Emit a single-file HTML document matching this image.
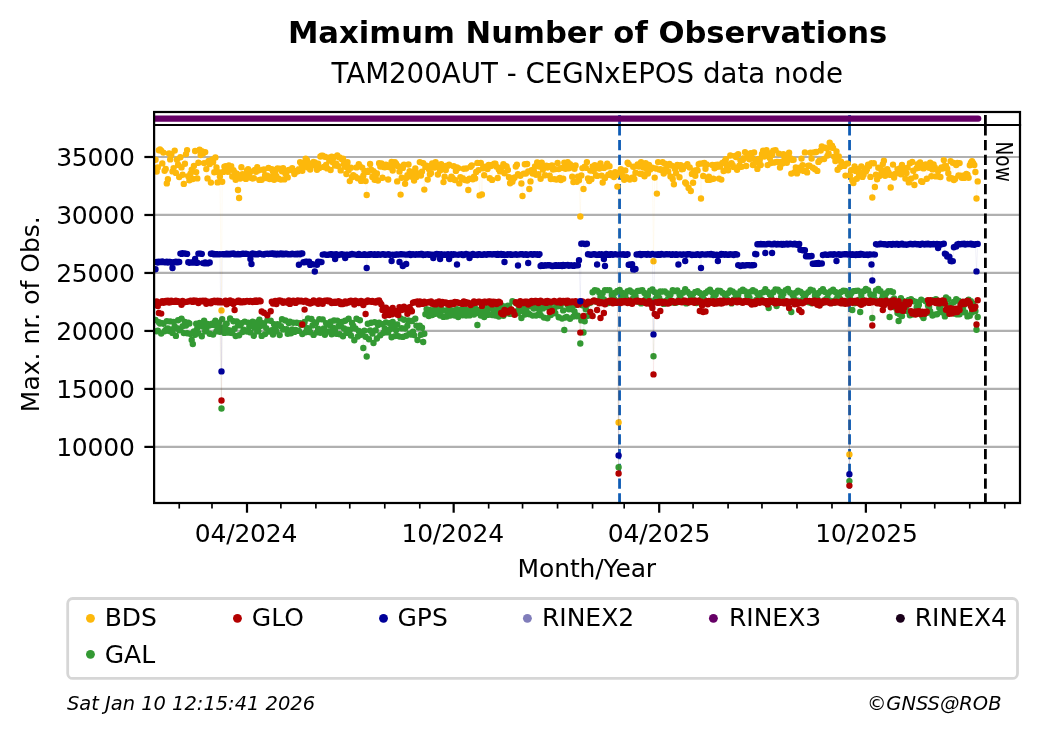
<!DOCTYPE html>
<html lang="en"><head><meta charset="utf-8"><title>Maximum Number of Observations - TAM200AUT</title>
<style>
html,body{margin:0;padding:0;background:#fff;}
body{width:1040px;height:734px;overflow:hidden;}
svg{display:block;will-change:transform;transform:translateZ(0);}
text{font-family:"DejaVu Sans","Liberation Sans",sans-serif;fill:#000;}
.t9{font-size:25px;}
.it{font-size:19.44px;font-style:italic;}
</style></head><body>
<svg width="1040" height="734" viewBox="0 0 1040 734">
<rect width="1040" height="734" fill="#fff"/>
<defs>
<clipPath id="cm"><rect x="154.1" y="125.0" width="865.9" height="378.0"/></clipPath>
<clipPath id="cs"><rect x="154.1" y="112.0" width="865.9" height="13.0"/></clipPath>
</defs>
<text x="587.6" y="42.7" text-anchor="middle" font-size="30.63" font-weight="bold">Maximum Number of Observations</text>
<text x="587.3" y="83.4" text-anchor="middle" font-size="27.66">TAM200AUT - CEGNxEPOS data node</text>
<g stroke="#b0b0b0" stroke-width="2.22"><line x1="154.1" x2="1020.0" y1="446.90" y2="446.90"/><line x1="154.1" x2="1020.0" y1="388.92" y2="388.92"/><line x1="154.1" x2="1020.0" y1="330.94" y2="330.94"/><line x1="154.1" x2="1020.0" y1="272.96" y2="272.96"/><line x1="154.1" x2="1020.0" y1="214.98" y2="214.98"/><line x1="154.1" x2="1020.0" y1="157.00" y2="157.00"/></g>
<g clip-path="url(#cs)"><line x1="619.55" x2="619.55" y1="125.2" y2="100" stroke="#0e5cb5" stroke-width="2.78" stroke-dasharray="10.28 4.44"/><line x1="849.55" x2="849.55" y1="125.2" y2="100" stroke="#0e5cb5" stroke-width="2.78" stroke-dasharray="10.28 4.44"/><line x1="155.5" x2="978.2" y1="118.55" y2="118.55" stroke="#660066" stroke-width="6.3" stroke-linecap="round"/><line x1="985.4" x2="985.4" y1="125.2" y2="100" stroke="#000" stroke-width="2.78" stroke-dasharray="10.28 4.44"/></g>
<g clip-path="url(#cm)"><line x1="619.55" x2="619.55" y1="125.2" y2="510" stroke="#0e5cb5" stroke-width="2.78" stroke-dasharray="10.28 4.44"/><line x1="849.55" x2="849.55" y1="125.2" y2="510" stroke="#0e5cb5" stroke-width="2.78" stroke-dasharray="10.28 4.44"/><path d="M155.5 159.7 L156.7 171.5 L157.8 167.4 L158.9 150.2 L160.0 149.5 L161.2 150.7 L162.3 163.4 L163.4 152.6 L164.6 170.8 L165.7 169.0 L166.8 183.4 L167.9 179.2 L169.1 153.5 L170.2 159.4 L171.3 154.8 L172.5 171.4 L173.6 168.1 L174.7 150.6 L175.9 172.9 L177.0 159.8 L178.1 164.8 L179.2 177.1 L180.4 157.3 L181.5 167.4 L182.6 174.8 L183.8 183.9 L184.9 163.7 L186.0 154.1 L187.1 150.1 L188.3 176.2 L189.4 180.2 L190.5 173.7 L191.7 169.6 L192.8 179.0 L193.9 165.9 L195.1 151.0 L196.2 172.1 L197.3 178.4 L198.4 162.8 L199.6 149.7 L200.7 155.0 L201.8 151.1 L203.0 153.6 L204.1 163.1 L205.2 152.1 L206.3 169.1 L207.5 178.4 L208.6 160.9 L209.7 164.0 L210.9 182.6 L212.0 159.7 L213.1 162.0 L214.3 172.2 L215.4 157.4 L216.5 167.5 L217.6 182.4 L218.8 172.3 L219.9 176.5 L221.5 310.4 L222.2 181.7 L223.3 171.9 L224.4 166.6 L225.5 166.3 L226.7 169.3 L227.8 171.8 L228.9 165.5 L230.1 167.5 L231.2 166.3 L232.3 176.5 L233.4 170.3 L234.6 172.2 L235.7 179.8 L236.8 173.7 L238.0 190.0 L239.1 198.0 L240.2 178.6 L241.4 167.3 L242.5 174.3 L243.6 174.5 L244.7 174.3 L245.9 178.9 L247.0 170.6 L248.1 169.2 L249.3 174.3 L250.4 171.5 L251.5 178.1 L252.6 178.6 L253.8 178.1 L254.9 170.0 L256.0 171.7 L257.2 167.2 L258.3 170.4 L259.4 179.9 L260.6 179.6 L261.7 179.8 L262.8 169.8 L263.9 169.5 L265.1 175.2 L266.2 178.1 L267.3 175.6 L268.5 167.9 L269.6 179.0 L270.7 176.8 L271.8 169.1 L273.0 171.2 L274.1 179.7 L275.2 172.0 L276.4 176.3 L277.5 168.4 L278.6 178.7 L279.7 168.6 L280.9 179.6 L282.0 171.3 L283.1 168.3 L284.3 179.4 L285.4 173.5 L286.5 172.3 L287.7 177.4 L288.8 169.9 L289.9 169.7 L291.0 169.9 L292.2 168.2 L293.3 171.1 L294.4 174.1 L295.6 171.5 L296.7 171.7 L297.8 171.2 L298.9 169.1 L300.1 162.1 L301.2 163.5 L302.3 170.7 L303.5 163.9 L304.6 166.5 L305.7 158.7 L306.9 159.9 L308.0 167.4 L309.1 163.9 L310.2 169.5 L311.4 164.7 L312.5 163.0 L313.6 162.0 L314.8 162.4 L315.9 165.9 L317.0 169.7 L318.1 163.6 L319.3 168.0 L320.4 156.5 L321.5 155.7 L322.7 155.6 L323.8 167.0 L324.9 156.8 L326.1 164.9 L327.2 168.4 L328.3 157.8 L329.4 160.6 L330.6 170.0 L331.7 156.7 L332.8 162.3 L334.0 157.2 L335.1 165.6 L336.2 163.6 L337.3 155.5 L338.5 166.2 L339.6 157.4 L340.7 170.4 L341.9 159.3 L343.0 158.7 L344.1 163.4 L345.2 166.7 L346.4 174.0 L347.5 162.2 L348.6 170.0 L349.8 181.1 L350.9 167.8 L352.0 177.3 L353.2 175.1 L354.3 176.3 L355.4 176.6 L356.5 167.4 L357.7 178.2 L358.8 164.1 L359.9 166.3 L361.1 180.9 L362.2 167.6 L363.3 175.7 L364.4 171.0 L365.6 181.1 L366.7 195.0 L367.8 171.9 L369.0 170.5 L370.1 163.9 L371.2 169.8 L372.4 177.0 L373.5 171.1 L374.6 179.7 L375.7 177.0 L376.9 173.4 L378.0 180.6 L379.1 163.3 L380.3 166.6 L381.4 163.5 L382.5 177.7 L383.6 167.1 L384.8 167.3 L385.9 164.8 L387.0 166.7 L388.2 179.5 L389.3 166.4 L390.4 167.6 L391.6 162.0 L392.7 170.5 L393.8 165.6 L394.9 162.1 L396.1 163.6 L397.2 181.4 L398.3 166.2 L399.5 171.5 L400.6 194.6 L401.7 177.8 L402.8 167.9 L404.0 164.7 L405.1 183.8 L406.2 178.1 L407.4 175.2 L408.5 164.5 L409.6 171.1 L410.7 176.5 L411.9 172.5 L413.0 174.3 L414.1 180.6 L415.3 168.5 L416.4 177.0 L417.5 173.3 L418.7 174.3 L419.8 162.1 L420.9 175.5 L422.0 171.6 L423.2 163.2 L424.3 189.6 L425.4 166.8 L426.6 165.7 L427.7 179.6 L428.8 168.9 L429.9 174.3 L431.1 173.1 L432.2 163.4 L433.3 166.6 L434.5 167.5 L435.6 162.2 L436.7 166.8 L437.9 174.5 L439.0 167.2 L440.1 170.4 L441.2 164.1 L442.4 165.6 L443.5 182.1 L444.6 176.8 L445.8 170.1 L446.9 165.8 L448.0 165.8 L449.1 164.6 L450.3 179.1 L451.4 176.8 L452.5 178.0 L453.7 166.2 L454.8 180.0 L455.9 170.9 L457.0 167.4 L458.2 168.2 L459.3 183.4 L460.4 177.1 L461.6 178.7 L462.7 178.2 L463.8 168.7 L465.0 180.0 L466.1 168.5 L467.2 180.5 L468.3 190.0 L469.5 178.8 L470.6 166.8 L471.7 165.4 L472.9 179.2 L474.0 176.6 L475.1 178.4 L476.2 171.9 L477.4 162.9 L478.5 170.1 L479.6 195.4 L480.8 162.9 L481.9 194.5 L483.0 168.2 L484.2 175.3 L485.3 166.7 L486.4 167.4 L487.5 169.1 L488.7 164.9 L489.8 178.3 L490.9 166.0 L492.1 179.9 L493.2 164.5 L494.3 163.6 L495.4 163.6 L496.6 166.7 L497.7 178.0 L498.8 169.4 L500.0 171.4 L501.1 168.1 L502.2 167.0 L503.4 164.3 L504.5 173.3 L505.6 165.9 L506.7 166.5 L507.9 170.0 L509.0 177.3 L510.1 183.2 L511.3 178.1 L512.4 181.8 L513.5 178.7 L514.6 177.4 L515.8 166.5 L516.9 164.8 L518.0 174.3 L519.2 175.0 L520.3 175.8 L521.4 183.5 L522.5 196.0 L523.7 173.6 L524.8 164.3 L525.9 173.5 L527.1 164.0 L528.2 171.4 L529.3 189.0 L530.5 181.4 L531.6 170.3 L532.7 173.6 L533.8 170.6 L535.0 166.4 L536.1 174.7 L537.2 162.4 L538.4 174.1 L539.5 166.6 L540.6 178.7 L541.7 162.6 L542.9 169.6 L544.0 165.6 L545.1 175.3 L546.3 165.7 L547.4 167.6 L548.5 166.2 L549.7 175.7 L550.8 179.1 L551.9 165.4 L553.0 169.5 L554.2 179.1 L555.3 169.1 L556.4 179.5 L557.6 162.9 L558.7 169.1 L559.8 177.9 L560.9 180.0 L562.1 167.9 L563.2 178.8 L564.3 162.6 L565.5 168.8 L566.6 168.0 L567.7 162.1 L568.9 168.3 L570.0 164.2 L571.1 165.7 L572.2 176.8 L573.4 182.1 L574.5 168.7 L575.6 165.5 L576.8 181.8 L577.9 176.6 L579.0 180.3 L580.3 216.5 L581.3 175.5 L582.4 168.1 L583.5 189.0 L584.7 166.7 L585.8 167.7 L586.9 162.1 L588.0 178.5 L589.2 181.1 L590.3 170.6 L591.4 179.2 L592.6 166.5 L593.7 170.9 L594.8 165.3 L596.0 175.3 L597.1 175.9 L598.2 167.9 L599.3 168.5 L600.5 163.4 L601.6 175.6 L602.7 182.5 L603.9 167.9 L605.0 177.9 L606.1 166.8 L607.2 163.7 L608.4 174.8 L609.5 166.2 L610.6 173.2 L611.8 175.5 L612.9 174.0 L614.0 177.1 L615.2 172.2 L616.3 175.3 L617.4 186.6 L618.6 422.5 L619.7 172.4 L620.8 169.1 L621.9 171.1 L623.1 176.6 L624.2 179.8 L625.3 170.5 L626.4 177.1 L627.6 162.7 L628.7 164.1 L629.8 179.5 L631.0 178.7 L632.1 177.6 L633.2 166.7 L634.3 179.0 L635.5 172.7 L636.6 165.9 L637.7 164.5 L638.9 166.6 L640.0 173.7 L641.1 162.2 L642.3 174.2 L643.4 167.6 L644.5 176.3 L645.6 163.1 L646.8 169.1 L647.9 173.5 L649.0 164.9 L650.2 169.4 L651.3 167.5 L652.4 167.6 L653.5 261.3 L654.7 177.6 L655.8 168.5 L656.9 193.6 L658.1 162.1 L659.2 169.6 L660.3 169.3 L661.5 170.3 L662.6 162.3 L663.7 173.5 L664.8 163.6 L666.0 168.7 L667.1 164.6 L668.2 171.4 L669.4 164.0 L670.5 176.5 L671.6 165.6 L672.7 179.0 L673.9 184.2 L675.0 169.0 L676.1 173.2 L677.3 164.9 L678.4 166.0 L679.5 177.2 L680.7 165.3 L681.8 169.2 L682.9 168.9 L684.0 166.4 L685.2 182.5 L686.3 183.8 L687.4 164.1 L688.6 188.0 L689.7 167.5 L690.8 191.0 L691.9 173.9 L693.1 182.8 L694.2 170.8 L695.3 175.7 L696.5 170.2 L697.6 170.5 L698.7 164.3 L699.8 163.7 L701.0 198.5 L702.1 163.5 L703.2 176.0 L704.4 163.0 L705.5 168.8 L706.6 164.5 L707.8 179.9 L708.9 176.7 L710.0 179.7 L711.1 179.2 L712.3 165.0 L713.4 178.8 L714.5 168.3 L715.7 164.9 L716.8 166.9 L717.9 164.6 L719.0 178.6 L720.2 166.6 L721.3 179.6 L722.4 162.9 L723.6 171.1 L724.7 161.2 L725.8 159.3 L727.0 167.3 L728.1 170.3 L729.2 164.4 L730.3 155.5 L731.5 163.2 L732.6 164.9 L733.7 167.0 L734.9 155.9 L736.0 157.1 L737.1 169.7 L738.2 154.1 L739.4 165.7 L740.5 160.6 L741.6 166.7 L742.8 159.9 L743.9 158.2 L745.0 152.1 L746.2 166.0 L747.3 155.7 L748.4 155.7 L749.5 159.3 L750.7 153.3 L751.8 157.6 L752.9 165.0 L754.1 152.4 L755.2 160.2 L756.3 162.5 L757.4 168.9 L758.6 159.0 L759.7 160.3 L760.8 165.0 L762.0 154.0 L763.1 150.7 L764.2 156.5 L765.3 150.9 L766.5 150.2 L767.6 165.1 L768.7 153.2 L769.9 158.1 L771.0 163.0 L772.1 155.0 L773.3 150.8 L774.4 162.5 L775.5 150.1 L776.6 161.9 L777.8 161.9 L778.9 153.6 L780.0 167.5 L781.2 162.0 L782.3 163.5 L783.4 154.3 L784.5 157.0 L785.7 159.2 L786.8 162.7 L787.9 156.0 L789.1 152.8 L790.2 158.2 L791.3 173.6 L792.5 159.9 L793.6 159.8 L794.7 172.2 L795.8 167.5 L797.0 173.4 L798.1 170.3 L799.2 170.5 L800.4 167.5 L801.5 158.6 L802.6 165.1 L803.7 170.9 L804.9 152.4 L806.0 171.0 L807.1 172.4 L808.3 165.8 L809.4 165.7 L810.5 152.7 L811.6 158.6 L812.8 167.7 L813.9 152.4 L815.0 169.2 L816.2 152.0 L817.3 170.9 L818.4 161.9 L819.6 160.4 L820.7 150.5 L821.8 146.5 L822.9 147.5 L824.1 159.0 L825.2 147.6 L826.3 148.3 L827.5 155.6 L828.6 153.5 L829.7 142.6 L830.8 147.2 L832.0 145.6 L833.1 147.9 L834.2 156.8 L835.4 161.0 L836.5 151.5 L837.6 169.7 L838.8 156.5 L839.9 167.1 L841.0 161.6 L842.1 165.7 L843.3 164.6 L844.4 165.9 L845.5 175.6 L846.7 163.6 L847.8 163.6 L849.4 454.4 L850.0 175.3 L851.2 170.1 L852.3 180.2 L853.4 183.1 L854.6 166.4 L855.7 171.1 L856.8 178.7 L858.0 169.7 L859.1 175.4 L860.2 172.9 L861.3 166.5 L862.5 176.9 L863.6 174.8 L864.7 168.8 L865.9 171.6 L867.0 169.2 L868.1 164.8 L869.2 166.0 L870.4 176.9 L871.5 163.1 L872.3 197.5 L873.8 163.2 L874.9 187.0 L876.0 174.6 L877.1 179.2 L878.3 167.7 L879.4 175.9 L880.5 168.7 L881.7 172.8 L882.8 164.1 L883.9 160.7 L885.1 175.8 L886.2 170.0 L887.3 169.3 L888.4 172.1 L889.6 174.8 L890.7 187.5 L891.8 175.0 L893.0 164.6 L894.1 177.6 L895.2 174.0 L896.3 173.6 L897.5 169.1 L898.6 172.6 L899.7 168.4 L900.9 174.3 L902.0 165.0 L903.1 169.1 L904.3 168.2 L905.4 178.6 L906.5 173.1 L907.6 167.8 L908.8 182.4 L909.9 163.2 L911.0 178.8 L912.2 162.0 L913.3 170.8 L914.4 185.0 L915.5 176.6 L916.7 168.2 L917.8 164.2 L918.9 167.8 L920.1 162.4 L921.2 181.2 L922.3 181.9 L923.5 168.4 L924.6 167.0 L925.7 164.5 L926.8 178.8 L928.0 164.4 L929.1 167.8 L930.2 162.6 L931.4 176.2 L932.5 169.4 L933.6 164.5 L934.7 167.1 L935.9 176.4 L937.0 169.4 L938.1 171.0 L939.3 176.7 L940.4 177.0 L941.5 167.5 L942.6 168.5 L943.8 160.1 L944.9 165.6 L946.0 166.0 L947.2 168.6 L948.3 173.2 L949.4 178.6 L950.6 161.1 L951.7 178.1 L952.8 162.8 L953.9 180.1 L955.1 179.0 L956.2 165.0 L957.3 162.9 L958.5 175.5 L959.6 163.1 L960.7 175.8 L961.8 177.8 L963.0 175.6 L964.1 177.9 L965.2 176.8 L966.4 173.9 L967.5 174.8 L968.6 177.7 L969.8 165.3 L970.9 162.8 L972.0 161.2 L973.1 162.9 L974.3 165.0 L975.4 172.0 L976.5 198.5 L977.7 181.4" fill="none" stroke="#fdb80b" stroke-width="0.8" stroke-opacity="0.07"/>
<path d="M155.5 159.7h0M156.7 171.5h0M157.8 167.4h0M158.9 150.2h0M160.0 149.5h0M161.2 150.7h0M162.3 163.4h0M163.4 152.6h0M164.6 170.8h0M165.7 169.0h0M166.8 183.4h0M167.9 179.2h0M169.1 153.5h0M170.2 159.4h0M171.3 154.8h0M172.5 171.4h0M173.6 168.1h0M174.7 150.6h0M175.9 172.9h0M177.0 159.8h0M178.1 164.8h0M179.2 177.1h0M180.4 157.3h0M181.5 167.4h0M182.6 174.8h0M183.8 183.9h0M184.9 163.7h0M186.0 154.1h0M187.1 150.1h0M188.3 176.2h0M189.4 180.2h0M190.5 173.7h0M191.7 169.6h0M192.8 179.0h0M193.9 165.9h0M195.1 151.0h0M196.2 172.1h0M197.3 178.4h0M198.4 162.8h0M199.6 149.7h0M200.7 155.0h0M201.8 151.1h0M203.0 153.6h0M204.1 163.1h0M205.2 152.1h0M206.3 169.1h0M207.5 178.4h0M208.6 160.9h0M209.7 164.0h0M210.9 182.6h0M212.0 159.7h0M213.1 162.0h0M214.3 172.2h0M215.4 157.4h0M216.5 167.5h0M217.6 182.4h0M218.8 172.3h0M219.9 176.5h0M221.5 310.4h0M222.2 181.7h0M223.3 171.9h0M224.4 166.6h0M225.5 166.3h0M226.7 169.3h0M227.8 171.8h0M228.9 165.5h0M230.1 167.5h0M231.2 166.3h0M232.3 176.5h0M233.4 170.3h0M234.6 172.2h0M235.7 179.8h0M236.8 173.7h0M238.0 190.0h0M239.1 198.0h0M240.2 178.6h0M241.4 167.3h0M242.5 174.3h0M243.6 174.5h0M244.7 174.3h0M245.9 178.9h0M247.0 170.6h0M248.1 169.2h0M249.3 174.3h0M250.4 171.5h0M251.5 178.1h0M252.6 178.6h0M253.8 178.1h0M254.9 170.0h0M256.0 171.7h0M257.2 167.2h0M258.3 170.4h0M259.4 179.9h0M260.6 179.6h0M261.7 179.8h0M262.8 169.8h0M263.9 169.5h0M265.1 175.2h0M266.2 178.1h0M267.3 175.6h0M268.5 167.9h0M269.6 179.0h0M270.7 176.8h0M271.8 169.1h0M273.0 171.2h0M274.1 179.7h0M275.2 172.0h0M276.4 176.3h0M277.5 168.4h0M278.6 178.7h0M279.7 168.6h0M280.9 179.6h0M282.0 171.3h0M283.1 168.3h0M284.3 179.4h0M285.4 173.5h0M286.5 172.3h0M287.7 177.4h0M288.8 169.9h0M289.9 169.7h0M291.0 169.9h0M292.2 168.2h0M293.3 171.1h0M294.4 174.1h0M295.6 171.5h0M296.7 171.7h0M297.8 171.2h0M298.9 169.1h0M300.1 162.1h0M301.2 163.5h0M302.3 170.7h0M303.5 163.9h0M304.6 166.5h0M305.7 158.7h0M306.9 159.9h0M308.0 167.4h0M309.1 163.9h0M310.2 169.5h0M311.4 164.7h0M312.5 163.0h0M313.6 162.0h0M314.8 162.4h0M315.9 165.9h0M317.0 169.7h0M318.1 163.6h0M319.3 168.0h0M320.4 156.5h0M321.5 155.7h0M322.7 155.6h0M323.8 167.0h0M324.9 156.8h0M326.1 164.9h0M327.2 168.4h0M328.3 157.8h0M329.4 160.6h0M330.6 170.0h0M331.7 156.7h0M332.8 162.3h0M334.0 157.2h0M335.1 165.6h0M336.2 163.6h0M337.3 155.5h0M338.5 166.2h0M339.6 157.4h0M340.7 170.4h0M341.9 159.3h0M343.0 158.7h0M344.1 163.4h0M345.2 166.7h0M346.4 174.0h0M347.5 162.2h0M348.6 170.0h0M349.8 181.1h0M350.9 167.8h0M352.0 177.3h0M353.2 175.1h0M354.3 176.3h0M355.4 176.6h0M356.5 167.4h0M357.7 178.2h0M358.8 164.1h0M359.9 166.3h0M361.1 180.9h0M362.2 167.6h0M363.3 175.7h0M364.4 171.0h0M365.6 181.1h0M366.7 195.0h0M367.8 171.9h0M369.0 170.5h0M370.1 163.9h0M371.2 169.8h0M372.4 177.0h0M373.5 171.1h0M374.6 179.7h0M375.7 177.0h0M376.9 173.4h0M378.0 180.6h0M379.1 163.3h0M380.3 166.6h0M381.4 163.5h0M382.5 177.7h0M383.6 167.1h0M384.8 167.3h0M385.9 164.8h0M387.0 166.7h0M388.2 179.5h0M389.3 166.4h0M390.4 167.6h0M391.6 162.0h0M392.7 170.5h0M393.8 165.6h0M394.9 162.1h0M396.1 163.6h0M397.2 181.4h0M398.3 166.2h0M399.5 171.5h0M400.6 194.6h0M401.7 177.8h0M402.8 167.9h0M404.0 164.7h0M405.1 183.8h0M406.2 178.1h0M407.4 175.2h0M408.5 164.5h0M409.6 171.1h0M410.7 176.5h0M411.9 172.5h0M413.0 174.3h0M414.1 180.6h0M415.3 168.5h0M416.4 177.0h0M417.5 173.3h0M418.7 174.3h0M419.8 162.1h0M420.9 175.5h0M422.0 171.6h0M423.2 163.2h0M424.3 189.6h0M425.4 166.8h0M426.6 165.7h0M427.7 179.6h0M428.8 168.9h0M429.9 174.3h0M431.1 173.1h0M432.2 163.4h0M433.3 166.6h0M434.5 167.5h0M435.6 162.2h0M436.7 166.8h0M437.9 174.5h0M439.0 167.2h0M440.1 170.4h0M441.2 164.1h0M442.4 165.6h0M443.5 182.1h0M444.6 176.8h0M445.8 170.1h0M446.9 165.8h0M448.0 165.8h0M449.1 164.6h0M450.3 179.1h0M451.4 176.8h0M452.5 178.0h0M453.7 166.2h0M454.8 180.0h0M455.9 170.9h0M457.0 167.4h0M458.2 168.2h0M459.3 183.4h0M460.4 177.1h0M461.6 178.7h0M462.7 178.2h0M463.8 168.7h0M465.0 180.0h0M466.1 168.5h0M467.2 180.5h0M468.3 190.0h0M469.5 178.8h0M470.6 166.8h0M471.7 165.4h0M472.9 179.2h0M474.0 176.6h0M475.1 178.4h0M476.2 171.9h0M477.4 162.9h0M478.5 170.1h0M479.6 195.4h0M480.8 162.9h0M481.9 194.5h0M483.0 168.2h0M484.2 175.3h0M485.3 166.7h0M486.4 167.4h0M487.5 169.1h0M488.7 164.9h0M489.8 178.3h0M490.9 166.0h0M492.1 179.9h0M493.2 164.5h0M494.3 163.6h0M495.4 163.6h0M496.6 166.7h0M497.7 178.0h0M498.8 169.4h0M500.0 171.4h0M501.1 168.1h0M502.2 167.0h0M503.4 164.3h0M504.5 173.3h0M505.6 165.9h0M506.7 166.5h0M507.9 170.0h0M509.0 177.3h0M510.1 183.2h0M511.3 178.1h0M512.4 181.8h0M513.5 178.7h0M514.6 177.4h0M515.8 166.5h0M516.9 164.8h0M518.0 174.3h0M519.2 175.0h0M520.3 175.8h0M521.4 183.5h0M522.5 196.0h0M523.7 173.6h0M524.8 164.3h0M525.9 173.5h0M527.1 164.0h0M528.2 171.4h0M529.3 189.0h0M530.5 181.4h0M531.6 170.3h0M532.7 173.6h0M533.8 170.6h0M535.0 166.4h0M536.1 174.7h0M537.2 162.4h0M538.4 174.1h0M539.5 166.6h0M540.6 178.7h0M541.7 162.6h0M542.9 169.6h0M544.0 165.6h0M545.1 175.3h0M546.3 165.7h0M547.4 167.6h0M548.5 166.2h0M549.7 175.7h0M550.8 179.1h0M551.9 165.4h0M553.0 169.5h0M554.2 179.1h0M555.3 169.1h0M556.4 179.5h0M557.6 162.9h0M558.7 169.1h0M559.8 177.9h0M560.9 180.0h0M562.1 167.9h0M563.2 178.8h0M564.3 162.6h0M565.5 168.8h0M566.6 168.0h0M567.7 162.1h0M568.9 168.3h0M570.0 164.2h0M571.1 165.7h0M572.2 176.8h0M573.4 182.1h0M574.5 168.7h0M575.6 165.5h0M576.8 181.8h0M577.9 176.6h0M579.0 180.3h0M580.3 216.5h0M581.3 175.5h0M582.4 168.1h0M583.5 189.0h0M584.7 166.7h0M585.8 167.7h0M586.9 162.1h0M588.0 178.5h0M589.2 181.1h0M590.3 170.6h0M591.4 179.2h0M592.6 166.5h0M593.7 170.9h0M594.8 165.3h0M596.0 175.3h0M597.1 175.9h0M598.2 167.9h0M599.3 168.5h0M600.5 163.4h0M601.6 175.6h0M602.7 182.5h0M603.9 167.9h0M605.0 177.9h0M606.1 166.8h0M607.2 163.7h0M608.4 174.8h0M609.5 166.2h0M610.6 173.2h0M611.8 175.5h0M612.9 174.0h0M614.0 177.1h0M615.2 172.2h0M616.3 175.3h0M617.4 186.6h0M618.6 422.5h0M619.7 172.4h0M620.8 169.1h0M621.9 171.1h0M623.1 176.6h0M624.2 179.8h0M625.3 170.5h0M626.4 177.1h0M627.6 162.7h0M628.7 164.1h0M629.8 179.5h0M631.0 178.7h0M632.1 177.6h0M633.2 166.7h0M634.3 179.0h0M635.5 172.7h0M636.6 165.9h0M637.7 164.5h0M638.9 166.6h0M640.0 173.7h0M641.1 162.2h0M642.3 174.2h0M643.4 167.6h0M644.5 176.3h0M645.6 163.1h0M646.8 169.1h0M647.9 173.5h0M649.0 164.9h0M650.2 169.4h0M651.3 167.5h0M652.4 167.6h0M653.5 261.3h0M654.7 177.6h0M655.8 168.5h0M656.9 193.6h0M658.1 162.1h0M659.2 169.6h0M660.3 169.3h0M661.5 170.3h0M662.6 162.3h0M663.7 173.5h0M664.8 163.6h0M666.0 168.7h0M667.1 164.6h0M668.2 171.4h0M669.4 164.0h0M670.5 176.5h0M671.6 165.6h0M672.7 179.0h0M673.9 184.2h0M675.0 169.0h0M676.1 173.2h0M677.3 164.9h0M678.4 166.0h0M679.5 177.2h0M680.7 165.3h0M681.8 169.2h0M682.9 168.9h0M684.0 166.4h0M685.2 182.5h0M686.3 183.8h0M687.4 164.1h0M688.6 188.0h0M689.7 167.5h0M690.8 191.0h0M691.9 173.9h0M693.1 182.8h0M694.2 170.8h0M695.3 175.7h0M696.5 170.2h0M697.6 170.5h0M698.7 164.3h0M699.8 163.7h0M701.0 198.5h0M702.1 163.5h0M703.2 176.0h0M704.4 163.0h0M705.5 168.8h0M706.6 164.5h0M707.8 179.9h0M708.9 176.7h0M710.0 179.7h0M711.1 179.2h0M712.3 165.0h0M713.4 178.8h0M714.5 168.3h0M715.7 164.9h0M716.8 166.9h0M717.9 164.6h0M719.0 178.6h0M720.2 166.6h0M721.3 179.6h0M722.4 162.9h0M723.6 171.1h0M724.7 161.2h0M725.8 159.3h0M727.0 167.3h0M728.1 170.3h0M729.2 164.4h0M730.3 155.5h0M731.5 163.2h0M732.6 164.9h0M733.7 167.0h0M734.9 155.9h0M736.0 157.1h0M737.1 169.7h0M738.2 154.1h0M739.4 165.7h0M740.5 160.6h0M741.6 166.7h0M742.8 159.9h0M743.9 158.2h0M745.0 152.1h0M746.2 166.0h0M747.3 155.7h0M748.4 155.7h0M749.5 159.3h0M750.7 153.3h0M751.8 157.6h0M752.9 165.0h0M754.1 152.4h0M755.2 160.2h0M756.3 162.5h0M757.4 168.9h0M758.6 159.0h0M759.7 160.3h0M760.8 165.0h0M762.0 154.0h0M763.1 150.7h0M764.2 156.5h0M765.3 150.9h0M766.5 150.2h0M767.6 165.1h0M768.7 153.2h0M769.9 158.1h0M771.0 163.0h0M772.1 155.0h0M773.3 150.8h0M774.4 162.5h0M775.5 150.1h0M776.6 161.9h0M777.8 161.9h0M778.9 153.6h0M780.0 167.5h0M781.2 162.0h0M782.3 163.5h0M783.4 154.3h0M784.5 157.0h0M785.7 159.2h0M786.8 162.7h0M787.9 156.0h0M789.1 152.8h0M790.2 158.2h0M791.3 173.6h0M792.5 159.9h0M793.6 159.8h0M794.7 172.2h0M795.8 167.5h0M797.0 173.4h0M798.1 170.3h0M799.2 170.5h0M800.4 167.5h0M801.5 158.6h0M802.6 165.1h0M803.7 170.9h0M804.9 152.4h0M806.0 171.0h0M807.1 172.4h0M808.3 165.8h0M809.4 165.7h0M810.5 152.7h0M811.6 158.6h0M812.8 167.7h0M813.9 152.4h0M815.0 169.2h0M816.2 152.0h0M817.3 170.9h0M818.4 161.9h0M819.6 160.4h0M820.7 150.5h0M821.8 146.5h0M822.9 147.5h0M824.1 159.0h0M825.2 147.6h0M826.3 148.3h0M827.5 155.6h0M828.6 153.5h0M829.7 142.6h0M830.8 147.2h0M832.0 145.6h0M833.1 147.9h0M834.2 156.8h0M835.4 161.0h0M836.5 151.5h0M837.6 169.7h0M838.8 156.5h0M839.9 167.1h0M841.0 161.6h0M842.1 165.7h0M843.3 164.6h0M844.4 165.9h0M845.5 175.6h0M846.7 163.6h0M847.8 163.6h0M849.4 454.4h0M850.0 175.3h0M851.2 170.1h0M852.3 180.2h0M853.4 183.1h0M854.6 166.4h0M855.7 171.1h0M856.8 178.7h0M858.0 169.7h0M859.1 175.4h0M860.2 172.9h0M861.3 166.5h0M862.5 176.9h0M863.6 174.8h0M864.7 168.8h0M865.9 171.6h0M867.0 169.2h0M868.1 164.8h0M869.2 166.0h0M870.4 176.9h0M871.5 163.1h0M872.3 197.5h0M873.8 163.2h0M874.9 187.0h0M876.0 174.6h0M877.1 179.2h0M878.3 167.7h0M879.4 175.9h0M880.5 168.7h0M881.7 172.8h0M882.8 164.1h0M883.9 160.7h0M885.1 175.8h0M886.2 170.0h0M887.3 169.3h0M888.4 172.1h0M889.6 174.8h0M890.7 187.5h0M891.8 175.0h0M893.0 164.6h0M894.1 177.6h0M895.2 174.0h0M896.3 173.6h0M897.5 169.1h0M898.6 172.6h0M899.7 168.4h0M900.9 174.3h0M902.0 165.0h0M903.1 169.1h0M904.3 168.2h0M905.4 178.6h0M906.5 173.1h0M907.6 167.8h0M908.8 182.4h0M909.9 163.2h0M911.0 178.8h0M912.2 162.0h0M913.3 170.8h0M914.4 185.0h0M915.5 176.6h0M916.7 168.2h0M917.8 164.2h0M918.9 167.8h0M920.1 162.4h0M921.2 181.2h0M922.3 181.9h0M923.5 168.4h0M924.6 167.0h0M925.7 164.5h0M926.8 178.8h0M928.0 164.4h0M929.1 167.8h0M930.2 162.6h0M931.4 176.2h0M932.5 169.4h0M933.6 164.5h0M934.7 167.1h0M935.9 176.4h0M937.0 169.4h0M938.1 171.0h0M939.3 176.7h0M940.4 177.0h0M941.5 167.5h0M942.6 168.5h0M943.8 160.1h0M944.9 165.6h0M946.0 166.0h0M947.2 168.6h0M948.3 173.2h0M949.4 178.6h0M950.6 161.1h0M951.7 178.1h0M952.8 162.8h0M953.9 180.1h0M955.1 179.0h0M956.2 165.0h0M957.3 162.9h0M958.5 175.5h0M959.6 163.1h0M960.7 175.8h0M961.8 177.8h0M963.0 175.6h0M964.1 177.9h0M965.2 176.8h0M966.4 173.9h0M967.5 174.8h0M968.6 177.7h0M969.8 165.3h0M970.9 162.8h0M972.0 161.2h0M973.1 162.9h0M974.3 165.0h0M975.4 172.0h0M976.5 198.5h0M977.7 181.4h0" fill="none" stroke="#fdb80b" stroke-width="6.4" stroke-linecap="round"/>
<path d="M155.5 320.0 L156.7 331.3 L157.8 330.8 L158.9 322.2 L160.0 323.6 L161.2 333.6 L162.3 323.3 L163.4 323.7 L164.6 331.2 L165.7 329.9 L166.8 321.1 L167.9 328.5 L169.1 331.0 L170.2 321.4 L171.3 329.6 L172.5 332.9 L173.6 322.0 L174.7 326.5 L175.9 335.9 L177.0 328.2 L178.1 320.3 L179.2 330.2 L180.4 329.1 L181.5 318.6 L182.6 326.3 L183.8 333.1 L184.9 321.9 L186.0 325.6 L187.1 333.2 L188.3 322.6 L189.4 323.5 L190.5 333.9 L191.7 340.0 L192.8 344.0 L193.9 331.5 L195.1 334.7 L196.2 323.7 L197.3 328.1 L198.4 333.2 L199.6 322.9 L200.7 323.1 L201.8 336.3 L203.0 326.6 L204.1 320.8 L205.2 331.3 L206.3 328.7 L207.5 323.9 L208.6 325.8 L209.7 333.8 L210.9 325.0 L212.0 323.6 L213.1 334.6 L214.3 325.0 L215.4 320.8 L216.5 331.2 L217.6 327.1 L218.8 322.9 L219.9 331.7 L221.5 408.5 L222.2 319.2 L223.3 327.7 L224.4 332.9 L225.5 325.0 L226.7 323.6 L227.8 332.6 L228.9 330.2 L230.1 318.5 L231.2 332.9 L232.3 333.0 L233.4 321.2 L234.6 328.7 L235.7 336.1 L236.8 321.4 L238.0 325.4 L239.1 335.3 L240.2 325.3 L241.4 323.2 L242.5 332.1 L243.6 329.7 L244.7 321.6 L245.9 330.8 L247.0 331.5 L248.1 322.6 L249.3 326.5 L250.4 332.4 L251.5 325.1 L252.6 321.8 L253.8 335.8 L254.9 327.8 L256.0 322.5 L257.2 331.4 L258.3 331.1 L259.4 319.7 L260.6 325.9 L261.7 335.9 L262.8 323.3 L263.9 324.5 L265.1 334.1 L266.2 328.1 L267.3 320.4 L268.5 330.6 L269.6 331.6 L270.7 320.8 L271.8 330.3 L273.0 334.5 L274.1 324.3 L275.2 328.0 L276.4 331.4 L277.5 324.1 L278.6 324.7 L279.7 335.1 L280.9 326.2 L282.0 319.2 L283.1 329.6 L284.3 329.3 L285.4 320.5 L286.5 329.2 L287.7 333.7 L288.8 323.1 L289.9 321.8 L291.0 333.3 L292.2 329.4 L293.3 322.8 L294.4 331.9 L295.6 330.0 L296.7 322.7 L297.8 330.6 L298.9 330.9 L300.1 323.3 L301.2 324.9 L302.3 334.1 L303.5 323.6 L304.6 321.9 L305.7 332.3 L306.9 327.9 L308.0 318.4 L309.1 329.0 L310.2 332.2 L311.4 319.0 L312.5 325.4 L313.6 334.9 L314.8 322.4 L315.9 322.9 L317.0 332.4 L318.1 328.8 L319.3 319.3 L320.4 332.8 L321.5 332.4 L322.7 319.4 L323.8 328.4 L324.9 334.7 L326.1 323.1 L327.2 324.6 L328.3 331.5 L329.4 325.0 L330.6 321.7 L331.7 334.2 L332.8 327.8 L334.0 320.5 L335.1 331.2 L336.2 333.8 L337.3 320.8 L338.5 326.3 L339.6 334.3 L340.7 326.3 L341.9 321.9 L343.0 336.3 L344.1 328.5 L345.2 320.7 L346.4 332.7 L347.5 329.8 L348.6 318.7 L349.8 330.0 L350.9 335.5 L352.0 322.9 L353.2 325.8 L354.3 340.3 L355.4 328.5 L356.5 318.8 L357.7 336.6 L358.8 331.0 L359.9 320.3 L361.1 334.8 L362.2 334.5 L363.3 348.0 L364.4 330.6 L365.6 336.8 L366.7 356.5 L367.8 323.7 L369.0 339.2 L370.1 330.4 L371.2 322.8 L372.4 333.5 L373.5 343.0 L374.6 322.1 L375.7 330.3 L376.9 338.5 L378.0 325.0 L379.1 322.6 L380.3 335.3 L381.4 324.0 L382.5 324.2 L383.6 332.8 L384.8 328.7 L385.9 322.4 L387.0 332.4 L388.2 332.2 L389.3 323.1 L390.4 328.9 L391.6 337.2 L392.7 321.9 L393.8 324.7 L394.9 336.1 L396.1 330.2 L397.2 324.5 L398.3 336.1 L399.5 336.6 L400.6 318.4 L401.7 328.3 L402.8 336.9 L404.0 319.8 L405.1 328.5 L406.2 335.7 L407.4 325.7 L408.5 320.4 L409.6 333.6 L410.7 334.6 L411.9 321.0 L413.0 331.6 L414.1 335.1 L415.3 318.8 L416.4 325.6 L417.5 340.0 L418.7 327.6 L419.8 325.6 L420.9 334.8 L422.0 327.8 L423.2 342.0 L424.3 333.7 L425.4 314.3 L426.6 309.1 L427.7 312.5 L428.8 316.0 L429.9 309.9 L431.1 311.6 L432.2 315.0 L433.3 313.3 L434.5 309.6 L435.6 313.7 L436.7 313.4 L437.9 309.1 L439.0 313.1 L440.1 315.6 L441.2 309.1 L442.4 310.8 L443.5 316.9 L444.6 310.6 L445.8 310.5 L446.9 316.5 L448.0 313.4 L449.1 308.9 L450.3 315.5 L451.4 314.6 L452.5 310.4 L453.7 311.0 L454.8 315.6 L455.9 310.8 L457.0 309.2 L458.2 317.0 L459.3 310.9 L460.4 309.6 L461.6 314.0 L462.7 315.3 L463.8 309.2 L465.0 314.1 L466.1 315.5 L467.2 310.3 L468.3 311.8 L469.5 315.4 L470.6 310.5 L471.7 310.8 L472.9 314.4 L474.0 314.5 L475.1 308.1 L476.2 312.9 L477.4 325.0 L478.5 310.2 L479.6 313.5 L480.8 315.6 L481.9 311.0 L483.0 309.7 L484.2 317.1 L485.3 312.9 L486.4 308.2 L487.5 313.5 L488.7 314.8 L489.8 307.7 L490.9 314.1 L492.1 315.0 L493.2 309.1 L494.3 311.4 L495.4 315.5 L496.6 311.7 L497.7 308.6 L498.8 316.6 L500.0 312.9 L501.1 305.1 L502.2 310.1 L503.4 315.7 L504.5 306.5 L505.6 308.0 L506.7 313.2 L507.9 305.6 L509.0 306.2 L510.1 313.9 L511.3 309.8 L512.4 301.3 L513.5 313.2 L514.6 314.1 L515.8 303.0 L516.9 311.2 L518.0 313.1 L519.2 306.8 L520.3 304.8 L521.4 318.1 L522.5 310.7 L523.7 306.6 L524.8 314.6 L525.9 310.3 L527.1 302.4 L528.2 313.1 L529.3 314.3 L530.5 306.4 L531.6 306.1 L532.7 315.6 L533.8 308.5 L535.0 305.8 L536.1 315.5 L537.2 307.7 L538.4 301.5 L539.5 311.9 L540.6 315.3 L541.7 305.3 L542.9 308.4 L544.0 317.6 L545.1 302.7 L546.3 307.0 L547.4 318.2 L548.5 307.5 L549.7 306.4 L550.8 315.1 L551.9 309.3 L553.0 302.3 L554.2 311.2 L555.3 313.2 L556.4 305.5 L557.6 306.3 L558.7 317.3 L559.8 305.7 L560.9 304.4 L562.1 318.6 L563.2 310.4 L564.3 330.0 L565.5 317.5 L566.6 316.9 L567.7 305.1 L568.9 309.3 L570.0 318.7 L571.1 305.1 L572.2 309.3 L573.4 316.6 L574.5 311.5 L575.6 304.9 L576.8 316.3 L577.9 315.8 L579.0 303.0 L580.3 343.5 L581.3 320.4 L582.4 305.3 L583.5 332.5 L584.7 321.2 L585.8 309.2 L586.9 304.7 L588.0 315.7 L589.2 315.4 L590.3 302.8 L591.4 315.4 L592.6 292.3 L593.7 300.6 L594.8 290.1 L596.0 301.6 L597.1 290.7 L598.2 301.0 L599.3 292.7 L600.5 296.9 L601.6 296.6 L602.7 293.1 L603.9 299.4 L605.0 290.3 L606.1 303.4 L607.2 290.1 L608.4 303.1 L609.5 290.3 L610.6 300.7 L611.8 294.9 L612.9 296.6 L614.0 298.9 L615.2 292.7 L616.3 300.9 L617.4 290.9 L618.6 467.3 L619.7 289.9 L620.8 299.7 L621.9 292.8 L623.1 297.8 L624.2 296.3 L625.3 294.9 L626.4 299.2 L627.6 291.2 L628.7 301.6 L629.8 290.4 L631.0 302.8 L632.1 292.2 L633.2 298.3 L634.3 294.2 L635.5 296.0 L636.6 300.0 L637.7 291.0 L638.9 302.0 L640.0 290.8 L641.1 303.4 L642.3 290.1 L643.4 301.9 L644.5 293.0 L645.6 298.9 L646.8 295.5 L647.9 295.1 L649.0 300.1 L650.2 290.7 L651.3 301.2 L652.4 289.4 L653.5 356.2 L654.7 292.1 L655.8 298.6 L656.9 294.5 L658.1 294.8 L659.2 297.9 L660.3 291.5 L661.5 301.2 L662.6 291.5 L663.7 303.9 L664.8 291.4 L666.0 301.0 L667.1 293.1 L668.2 298.5 L669.4 298.0 L670.5 294.6 L671.6 300.8 L672.7 290.1 L673.9 302.7 L675.0 291.0 L676.1 302.8 L677.3 290.5 L678.4 300.1 L679.5 294.5 L680.7 294.8 L681.8 300.0 L682.9 292.7 L684.0 302.3 L685.2 289.2 L686.3 303.4 L687.4 291.8 L688.6 302.1 L689.7 293.8 L690.8 298.6 L691.9 297.7 L693.1 294.1 L694.2 300.2 L695.3 291.9 L696.5 303.1 L697.6 291.1 L698.7 301.5 L699.8 292.9 L701.0 299.6 L702.1 296.1 L703.2 294.7 L704.4 300.0 L705.5 293.0 L706.6 301.0 L707.8 291.2 L708.9 301.8 L710.0 289.7 L711.1 300.9 L712.3 292.4 L713.4 297.7 L714.5 298.0 L715.7 294.4 L716.8 301.0 L717.9 290.7 L719.0 303.1 L720.2 290.9 L721.3 302.5 L722.4 292.8 L723.6 300.4 L724.7 294.6 L725.8 294.6 L727.0 299.1 L728.1 293.1 L729.2 301.2 L730.3 290.5 L731.5 303.4 L732.6 291.4 L733.7 299.7 L734.9 293.1 L736.0 296.4 L737.1 295.8 L738.2 294.7 L739.4 300.2 L740.5 291.2 L741.6 302.3 L742.8 289.6 L743.9 301.3 L745.0 291.2 L746.2 300.5 L747.3 295.2 L748.4 295.2 L749.5 297.6 L750.7 291.6 L751.8 302.2 L752.9 290.1 L754.1 302.9 L755.2 291.4 L756.3 300.0 L757.4 293.6 L758.6 296.5 L759.7 297.7 L760.8 293.0 L762.0 299.8 L763.1 292.2 L764.2 302.0 L765.3 289.3 L766.5 303.1 L767.6 291.9 L768.7 308.0 L769.9 294.6 L771.0 295.8 L772.1 300.0 L773.3 292.2 L774.4 303.0 L775.5 289.4 L776.6 306.0 L777.8 289.6 L778.9 301.1 L780.0 291.7 L781.2 296.8 L782.3 298.1 L783.4 293.7 L784.5 301.2 L785.7 290.3 L786.8 302.0 L787.9 289.0 L789.1 302.2 L790.2 292.6 L791.3 312.0 L792.5 294.6 L793.6 296.9 L794.7 299.8 L795.8 292.7 L797.0 300.5 L798.1 290.6 L799.2 302.4 L800.4 291.8 L801.5 300.6 L802.6 293.5 L803.7 298.1 L804.9 296.5 L806.0 293.9 L807.1 300.9 L808.3 292.1 L809.4 302.4 L810.5 289.7 L811.6 303.3 L812.8 290.4 L813.9 300.4 L815.0 295.4 L816.2 295.9 L817.3 298.6 L818.4 292.9 L819.6 302.7 L820.7 290.9 L821.8 303.2 L822.9 289.3 L824.1 300.5 L825.2 292.1 L826.3 298.9 L827.5 297.9 L828.6 292.9 L829.7 300.6 L830.8 291.2 L832.0 301.1 L833.1 289.8 L834.2 302.7 L835.4 292.0 L836.5 298.9 L837.6 295.6 L838.8 295.2 L839.9 298.8 L841.0 292.0 L842.1 302.9 L843.3 290.6 L844.4 303.3 L845.5 291.0 L846.7 300.7 L847.8 294.3 L849.4 481.1 L850.0 297.4 L851.2 293.3 L852.3 310.0 L853.4 291.2 L854.6 303.3 L855.7 290.9 L856.8 301.6 L858.0 290.6 L859.1 299.6 L860.2 312.0 L861.3 294.8 L862.5 299.4 L863.6 291.3 L864.7 301.1 L865.9 289.0 L867.0 302.0 L868.1 290.2 L869.2 302.3 L870.4 294.3 L871.5 296.9 L872.3 318.0 L873.8 295.1 L874.9 299.6 L876.0 290.5 L877.1 302.2 L878.3 289.0 L879.4 301.4 L880.5 291.3 L881.7 299.2 L882.8 296.2 L883.9 295.1 L885.1 297.9 L886.2 293.3 L887.3 301.5 L888.4 291.2 L889.6 317.0 L890.7 291.3 L891.8 300.5 L893.0 292.1 L894.1 298.4 L895.2 307.6 L896.3 304.0 L897.5 313.0 L898.6 321.0 L899.7 314.2 L900.9 298.3 L902.0 316.1 L903.1 300.9 L904.3 310.5 L905.4 305.6 L906.5 305.4 L907.6 311.2 L908.8 300.0 L909.9 315.2 L911.0 299.3 L912.2 314.6 L913.3 301.0 L914.4 312.4 L915.5 301.8 L916.7 307.3 L917.8 307.9 L918.9 304.7 L920.1 313.0 L921.2 299.7 L922.3 316.1 L923.5 318.0 L924.6 313.9 L925.7 301.3 L926.8 312.9 L928.0 305.6 L929.1 307.0 L930.2 311.2 L931.4 301.2 L932.5 315.6 L933.6 299.9 L934.7 314.6 L935.9 299.1 L937.0 314.3 L938.1 302.2 L939.3 307.7 L940.4 309.0 L941.5 303.9 L942.6 312.4 L943.8 300.6 L944.9 316.4 L946.0 297.5 L947.2 314.0 L948.3 299.2 L949.4 310.9 L950.6 305.2 L951.7 307.6 L952.8 310.8 L953.9 301.9 L955.1 313.7 L956.2 299.3 L957.3 314.4 L958.5 300.7 L959.6 314.2 L960.7 304.0 L961.8 307.6 L963.0 308.3 L964.1 304.7 L965.2 312.4 L966.4 301.4 L967.5 316.4 L968.6 299.7 L969.8 315.7 L970.9 301.3 L972.0 312.6 L973.1 303.8 L974.3 307.0 L975.4 310.9 L976.5 329.7 L977.7 317.0" fill="none" stroke="#339933" stroke-width="0.8" stroke-opacity="0.07"/>
<path d="M155.5 320.0h0M156.7 331.3h0M157.8 330.8h0M158.9 322.2h0M160.0 323.6h0M161.2 333.6h0M162.3 323.3h0M163.4 323.7h0M164.6 331.2h0M165.7 329.9h0M166.8 321.1h0M167.9 328.5h0M169.1 331.0h0M170.2 321.4h0M171.3 329.6h0M172.5 332.9h0M173.6 322.0h0M174.7 326.5h0M175.9 335.9h0M177.0 328.2h0M178.1 320.3h0M179.2 330.2h0M180.4 329.1h0M181.5 318.6h0M182.6 326.3h0M183.8 333.1h0M184.9 321.9h0M186.0 325.6h0M187.1 333.2h0M188.3 322.6h0M189.4 323.5h0M190.5 333.9h0M191.7 340.0h0M192.8 344.0h0M193.9 331.5h0M195.1 334.7h0M196.2 323.7h0M197.3 328.1h0M198.4 333.2h0M199.6 322.9h0M200.7 323.1h0M201.8 336.3h0M203.0 326.6h0M204.1 320.8h0M205.2 331.3h0M206.3 328.7h0M207.5 323.9h0M208.6 325.8h0M209.7 333.8h0M210.9 325.0h0M212.0 323.6h0M213.1 334.6h0M214.3 325.0h0M215.4 320.8h0M216.5 331.2h0M217.6 327.1h0M218.8 322.9h0M219.9 331.7h0M221.5 408.5h0M222.2 319.2h0M223.3 327.7h0M224.4 332.9h0M225.5 325.0h0M226.7 323.6h0M227.8 332.6h0M228.9 330.2h0M230.1 318.5h0M231.2 332.9h0M232.3 333.0h0M233.4 321.2h0M234.6 328.7h0M235.7 336.1h0M236.8 321.4h0M238.0 325.4h0M239.1 335.3h0M240.2 325.3h0M241.4 323.2h0M242.5 332.1h0M243.6 329.7h0M244.7 321.6h0M245.9 330.8h0M247.0 331.5h0M248.1 322.6h0M249.3 326.5h0M250.4 332.4h0M251.5 325.1h0M252.6 321.8h0M253.8 335.8h0M254.9 327.8h0M256.0 322.5h0M257.2 331.4h0M258.3 331.1h0M259.4 319.7h0M260.6 325.9h0M261.7 335.9h0M262.8 323.3h0M263.9 324.5h0M265.1 334.1h0M266.2 328.1h0M267.3 320.4h0M268.5 330.6h0M269.6 331.6h0M270.7 320.8h0M271.8 330.3h0M273.0 334.5h0M274.1 324.3h0M275.2 328.0h0M276.4 331.4h0M277.5 324.1h0M278.6 324.7h0M279.7 335.1h0M280.9 326.2h0M282.0 319.2h0M283.1 329.6h0M284.3 329.3h0M285.4 320.5h0M286.5 329.2h0M287.7 333.7h0M288.8 323.1h0M289.9 321.8h0M291.0 333.3h0M292.2 329.4h0M293.3 322.8h0M294.4 331.9h0M295.6 330.0h0M296.7 322.7h0M297.8 330.6h0M298.9 330.9h0M300.1 323.3h0M301.2 324.9h0M302.3 334.1h0M303.5 323.6h0M304.6 321.9h0M305.7 332.3h0M306.9 327.9h0M308.0 318.4h0M309.1 329.0h0M310.2 332.2h0M311.4 319.0h0M312.5 325.4h0M313.6 334.9h0M314.8 322.4h0M315.9 322.9h0M317.0 332.4h0M318.1 328.8h0M319.3 319.3h0M320.4 332.8h0M321.5 332.4h0M322.7 319.4h0M323.8 328.4h0M324.9 334.7h0M326.1 323.1h0M327.2 324.6h0M328.3 331.5h0M329.4 325.0h0M330.6 321.7h0M331.7 334.2h0M332.8 327.8h0M334.0 320.5h0M335.1 331.2h0M336.2 333.8h0M337.3 320.8h0M338.5 326.3h0M339.6 334.3h0M340.7 326.3h0M341.9 321.9h0M343.0 336.3h0M344.1 328.5h0M345.2 320.7h0M346.4 332.7h0M347.5 329.8h0M348.6 318.7h0M349.8 330.0h0M350.9 335.5h0M352.0 322.9h0M353.2 325.8h0M354.3 340.3h0M355.4 328.5h0M356.5 318.8h0M357.7 336.6h0M358.8 331.0h0M359.9 320.3h0M361.1 334.8h0M362.2 334.5h0M363.3 348.0h0M364.4 330.6h0M365.6 336.8h0M366.7 356.5h0M367.8 323.7h0M369.0 339.2h0M370.1 330.4h0M371.2 322.8h0M372.4 333.5h0M373.5 343.0h0M374.6 322.1h0M375.7 330.3h0M376.9 338.5h0M378.0 325.0h0M379.1 322.6h0M380.3 335.3h0M381.4 324.0h0M382.5 324.2h0M383.6 332.8h0M384.8 328.7h0M385.9 322.4h0M387.0 332.4h0M388.2 332.2h0M389.3 323.1h0M390.4 328.9h0M391.6 337.2h0M392.7 321.9h0M393.8 324.7h0M394.9 336.1h0M396.1 330.2h0M397.2 324.5h0M398.3 336.1h0M399.5 336.6h0M400.6 318.4h0M401.7 328.3h0M402.8 336.9h0M404.0 319.8h0M405.1 328.5h0M406.2 335.7h0M407.4 325.7h0M408.5 320.4h0M409.6 333.6h0M410.7 334.6h0M411.9 321.0h0M413.0 331.6h0M414.1 335.1h0M415.3 318.8h0M416.4 325.6h0M417.5 340.0h0M418.7 327.6h0M419.8 325.6h0M420.9 334.8h0M422.0 327.8h0M423.2 342.0h0M424.3 333.7h0M425.4 314.3h0M426.6 309.1h0M427.7 312.5h0M428.8 316.0h0M429.9 309.9h0M431.1 311.6h0M432.2 315.0h0M433.3 313.3h0M434.5 309.6h0M435.6 313.7h0M436.7 313.4h0M437.9 309.1h0M439.0 313.1h0M440.1 315.6h0M441.2 309.1h0M442.4 310.8h0M443.5 316.9h0M444.6 310.6h0M445.8 310.5h0M446.9 316.5h0M448.0 313.4h0M449.1 308.9h0M450.3 315.5h0M451.4 314.6h0M452.5 310.4h0M453.7 311.0h0M454.8 315.6h0M455.9 310.8h0M457.0 309.2h0M458.2 317.0h0M459.3 310.9h0M460.4 309.6h0M461.6 314.0h0M462.7 315.3h0M463.8 309.2h0M465.0 314.1h0M466.1 315.5h0M467.2 310.3h0M468.3 311.8h0M469.5 315.4h0M470.6 310.5h0M471.7 310.8h0M472.9 314.4h0M474.0 314.5h0M475.1 308.1h0M476.2 312.9h0M477.4 325.0h0M478.5 310.2h0M479.6 313.5h0M480.8 315.6h0M481.9 311.0h0M483.0 309.7h0M484.2 317.1h0M485.3 312.9h0M486.4 308.2h0M487.5 313.5h0M488.7 314.8h0M489.8 307.7h0M490.9 314.1h0M492.1 315.0h0M493.2 309.1h0M494.3 311.4h0M495.4 315.5h0M496.6 311.7h0M497.7 308.6h0M498.8 316.6h0M500.0 312.9h0M501.1 305.1h0M502.2 310.1h0M503.4 315.7h0M504.5 306.5h0M505.6 308.0h0M506.7 313.2h0M507.9 305.6h0M509.0 306.2h0M510.1 313.9h0M511.3 309.8h0M512.4 301.3h0M513.5 313.2h0M514.6 314.1h0M515.8 303.0h0M516.9 311.2h0M518.0 313.1h0M519.2 306.8h0M520.3 304.8h0M521.4 318.1h0M522.5 310.7h0M523.7 306.6h0M524.8 314.6h0M525.9 310.3h0M527.1 302.4h0M528.2 313.1h0M529.3 314.3h0M530.5 306.4h0M531.6 306.1h0M532.7 315.6h0M533.8 308.5h0M535.0 305.8h0M536.1 315.5h0M537.2 307.7h0M538.4 301.5h0M539.5 311.9h0M540.6 315.3h0M541.7 305.3h0M542.9 308.4h0M544.0 317.6h0M545.1 302.7h0M546.3 307.0h0M547.4 318.2h0M548.5 307.5h0M549.7 306.4h0M550.8 315.1h0M551.9 309.3h0M553.0 302.3h0M554.2 311.2h0M555.3 313.2h0M556.4 305.5h0M557.6 306.3h0M558.7 317.3h0M559.8 305.7h0M560.9 304.4h0M562.1 318.6h0M563.2 310.4h0M564.3 330.0h0M565.5 317.5h0M566.6 316.9h0M567.7 305.1h0M568.9 309.3h0M570.0 318.7h0M571.1 305.1h0M572.2 309.3h0M573.4 316.6h0M574.5 311.5h0M575.6 304.9h0M576.8 316.3h0M577.9 315.8h0M579.0 303.0h0M580.3 343.5h0M581.3 320.4h0M582.4 305.3h0M583.5 332.5h0M584.7 321.2h0M585.8 309.2h0M586.9 304.7h0M588.0 315.7h0M589.2 315.4h0M590.3 302.8h0M591.4 315.4h0M592.6 292.3h0M593.7 300.6h0M594.8 290.1h0M596.0 301.6h0M597.1 290.7h0M598.2 301.0h0M599.3 292.7h0M600.5 296.9h0M601.6 296.6h0M602.7 293.1h0M603.9 299.4h0M605.0 290.3h0M606.1 303.4h0M607.2 290.1h0M608.4 303.1h0M609.5 290.3h0M610.6 300.7h0M611.8 294.9h0M612.9 296.6h0M614.0 298.9h0M615.2 292.7h0M616.3 300.9h0M617.4 290.9h0M618.6 467.3h0M619.7 289.9h0M620.8 299.7h0M621.9 292.8h0M623.1 297.8h0M624.2 296.3h0M625.3 294.9h0M626.4 299.2h0M627.6 291.2h0M628.7 301.6h0M629.8 290.4h0M631.0 302.8h0M632.1 292.2h0M633.2 298.3h0M634.3 294.2h0M635.5 296.0h0M636.6 300.0h0M637.7 291.0h0M638.9 302.0h0M640.0 290.8h0M641.1 303.4h0M642.3 290.1h0M643.4 301.9h0M644.5 293.0h0M645.6 298.9h0M646.8 295.5h0M647.9 295.1h0M649.0 300.1h0M650.2 290.7h0M651.3 301.2h0M652.4 289.4h0M653.5 356.2h0M654.7 292.1h0M655.8 298.6h0M656.9 294.5h0M658.1 294.8h0M659.2 297.9h0M660.3 291.5h0M661.5 301.2h0M662.6 291.5h0M663.7 303.9h0M664.8 291.4h0M666.0 301.0h0M667.1 293.1h0M668.2 298.5h0M669.4 298.0h0M670.5 294.6h0M671.6 300.8h0M672.7 290.1h0M673.9 302.7h0M675.0 291.0h0M676.1 302.8h0M677.3 290.5h0M678.4 300.1h0M679.5 294.5h0M680.7 294.8h0M681.8 300.0h0M682.9 292.7h0M684.0 302.3h0M685.2 289.2h0M686.3 303.4h0M687.4 291.8h0M688.6 302.1h0M689.7 293.8h0M690.8 298.6h0M691.9 297.7h0M693.1 294.1h0M694.2 300.2h0M695.3 291.9h0M696.5 303.1h0M697.6 291.1h0M698.7 301.5h0M699.8 292.9h0M701.0 299.6h0M702.1 296.1h0M703.2 294.7h0M704.4 300.0h0M705.5 293.0h0M706.6 301.0h0M707.8 291.2h0M708.9 301.8h0M710.0 289.7h0M711.1 300.9h0M712.3 292.4h0M713.4 297.7h0M714.5 298.0h0M715.7 294.4h0M716.8 301.0h0M717.9 290.7h0M719.0 303.1h0M720.2 290.9h0M721.3 302.5h0M722.4 292.8h0M723.6 300.4h0M724.7 294.6h0M725.8 294.6h0M727.0 299.1h0M728.1 293.1h0M729.2 301.2h0M730.3 290.5h0M731.5 303.4h0M732.6 291.4h0M733.7 299.7h0M734.9 293.1h0M736.0 296.4h0M737.1 295.8h0M738.2 294.7h0M739.4 300.2h0M740.5 291.2h0M741.6 302.3h0M742.8 289.6h0M743.9 301.3h0M745.0 291.2h0M746.2 300.5h0M747.3 295.2h0M748.4 295.2h0M749.5 297.6h0M750.7 291.6h0M751.8 302.2h0M752.9 290.1h0M754.1 302.9h0M755.2 291.4h0M756.3 300.0h0M757.4 293.6h0M758.6 296.5h0M759.7 297.7h0M760.8 293.0h0M762.0 299.8h0M763.1 292.2h0M764.2 302.0h0M765.3 289.3h0M766.5 303.1h0M767.6 291.9h0M768.7 308.0h0M769.9 294.6h0M771.0 295.8h0M772.1 300.0h0M773.3 292.2h0M774.4 303.0h0M775.5 289.4h0M776.6 306.0h0M777.8 289.6h0M778.9 301.1h0M780.0 291.7h0M781.2 296.8h0M782.3 298.1h0M783.4 293.7h0M784.5 301.2h0M785.7 290.3h0M786.8 302.0h0M787.9 289.0h0M789.1 302.2h0M790.2 292.6h0M791.3 312.0h0M792.5 294.6h0M793.6 296.9h0M794.7 299.8h0M795.8 292.7h0M797.0 300.5h0M798.1 290.6h0M799.2 302.4h0M800.4 291.8h0M801.5 300.6h0M802.6 293.5h0M803.7 298.1h0M804.9 296.5h0M806.0 293.9h0M807.1 300.9h0M808.3 292.1h0M809.4 302.4h0M810.5 289.7h0M811.6 303.3h0M812.8 290.4h0M813.9 300.4h0M815.0 295.4h0M816.2 295.9h0M817.3 298.6h0M818.4 292.9h0M819.6 302.7h0M820.7 290.9h0M821.8 303.2h0M822.9 289.3h0M824.1 300.5h0M825.2 292.1h0M826.3 298.9h0M827.5 297.9h0M828.6 292.9h0M829.7 300.6h0M830.8 291.2h0M832.0 301.1h0M833.1 289.8h0M834.2 302.7h0M835.4 292.0h0M836.5 298.9h0M837.6 295.6h0M838.8 295.2h0M839.9 298.8h0M841.0 292.0h0M842.1 302.9h0M843.3 290.6h0M844.4 303.3h0M845.5 291.0h0M846.7 300.7h0M847.8 294.3h0M849.4 481.1h0M850.0 297.4h0M851.2 293.3h0M852.3 310.0h0M853.4 291.2h0M854.6 303.3h0M855.7 290.9h0M856.8 301.6h0M858.0 290.6h0M859.1 299.6h0M860.2 312.0h0M861.3 294.8h0M862.5 299.4h0M863.6 291.3h0M864.7 301.1h0M865.9 289.0h0M867.0 302.0h0M868.1 290.2h0M869.2 302.3h0M870.4 294.3h0M871.5 296.9h0M872.3 318.0h0M873.8 295.1h0M874.9 299.6h0M876.0 290.5h0M877.1 302.2h0M878.3 289.0h0M879.4 301.4h0M880.5 291.3h0M881.7 299.2h0M882.8 296.2h0M883.9 295.1h0M885.1 297.9h0M886.2 293.3h0M887.3 301.5h0M888.4 291.2h0M889.6 317.0h0M890.7 291.3h0M891.8 300.5h0M893.0 292.1h0M894.1 298.4h0M895.2 307.6h0M896.3 304.0h0M897.5 313.0h0M898.6 321.0h0M899.7 314.2h0M900.9 298.3h0M902.0 316.1h0M903.1 300.9h0M904.3 310.5h0M905.4 305.6h0M906.5 305.4h0M907.6 311.2h0M908.8 300.0h0M909.9 315.2h0M911.0 299.3h0M912.2 314.6h0M913.3 301.0h0M914.4 312.4h0M915.5 301.8h0M916.7 307.3h0M917.8 307.9h0M918.9 304.7h0M920.1 313.0h0M921.2 299.7h0M922.3 316.1h0M923.5 318.0h0M924.6 313.9h0M925.7 301.3h0M926.8 312.9h0M928.0 305.6h0M929.1 307.0h0M930.2 311.2h0M931.4 301.2h0M932.5 315.6h0M933.6 299.9h0M934.7 314.6h0M935.9 299.1h0M937.0 314.3h0M938.1 302.2h0M939.3 307.7h0M940.4 309.0h0M941.5 303.9h0M942.6 312.4h0M943.8 300.6h0M944.9 316.4h0M946.0 297.5h0M947.2 314.0h0M948.3 299.2h0M949.4 310.9h0M950.6 305.2h0M951.7 307.6h0M952.8 310.8h0M953.9 301.9h0M955.1 313.7h0M956.2 299.3h0M957.3 314.4h0M958.5 300.7h0M959.6 314.2h0M960.7 304.0h0M961.8 307.6h0M963.0 308.3h0M964.1 304.7h0M965.2 312.4h0M966.4 301.4h0M967.5 316.4h0M968.6 299.7h0M969.8 315.7h0M970.9 301.3h0M972.0 312.6h0M973.1 303.8h0M974.3 307.0h0M975.4 310.9h0M976.5 329.7h0M977.7 317.0h0" fill="none" stroke="#339933" stroke-width="6.4" stroke-linecap="round"/>
<path d="M155.5 304.4 L156.7 301.5 L157.8 306.0 L158.9 313.0 L160.0 303.1 L161.2 313.6 L162.3 301.2 L163.4 302.7 L164.6 302.4 L165.7 300.9 L166.8 301.7 L167.9 300.8 L169.1 302.6 L170.2 302.2 L171.3 300.7 L172.5 301.9 L173.6 301.9 L174.7 301.9 L175.9 300.8 L177.0 301.7 L178.1 301.2 L179.2 301.9 L180.4 302.3 L181.5 304.8 L182.6 301.0 L183.8 302.6 L184.9 302.1 L186.0 301.9 L187.1 301.8 L188.3 301.6 L189.4 301.2 L190.5 300.8 L191.7 301.2 L192.8 301.9 L193.9 300.4 L195.1 301.6 L196.2 300.7 L197.3 301.7 L198.4 303.0 L199.6 301.0 L200.7 301.0 L201.8 301.3 L203.0 300.6 L204.1 301.2 L205.2 300.8 L206.3 303.8 L207.5 301.8 L208.6 301.8 L209.7 302.1 L210.9 303.2 L212.0 301.3 L213.1 301.8 L214.3 300.7 L215.4 302.1 L216.5 301.6 L217.6 300.7 L218.8 302.4 L219.9 301.0 L221.5 400.5 L222.2 302.4 L223.3 302.3 L224.4 302.5 L225.5 300.7 L226.7 304.3 L227.8 301.9 L228.9 301.3 L230.1 300.5 L231.2 302.9 L232.3 301.3 L233.4 304.0 L234.6 310.0 L235.7 301.9 L236.8 301.8 L238.0 300.8 L239.1 300.6 L240.2 302.2 L241.4 301.7 L242.5 302.3 L243.6 301.1 L244.7 302.1 L245.9 301.4 L247.0 301.0 L248.1 301.3 L249.3 301.7 L250.4 300.9 L251.5 301.1 L252.6 302.0 L253.8 301.0 L254.9 301.9 L256.0 300.4 L257.2 301.8 L258.3 301.0 L259.4 300.5 L260.6 301.3 L261.7 311.5 L263.9 312.8 L267.3 315.2 L270.7 311.2 L271.8 301.8 L273.0 303.6 L274.1 302.6 L275.2 301.0 L276.4 304.1 L277.5 301.0 L278.6 301.1 L279.7 300.5 L280.9 300.8 L282.0 301.5 L283.1 302.8 L284.3 301.5 L285.4 301.9 L286.5 301.9 L287.7 302.7 L288.8 300.4 L289.9 303.9 L291.0 301.9 L292.2 302.4 L293.3 300.8 L294.4 301.2 L295.6 302.9 L296.7 301.9 L297.8 300.5 L298.9 300.9 L300.1 301.4 L301.2 300.7 L302.3 324.5 L303.5 301.8 L304.6 309.6 L305.7 300.7 L306.9 301.4 L308.0 302.8 L309.1 301.9 L310.2 303.5 L311.4 303.0 L312.5 301.6 L313.6 300.5 L314.8 302.3 L315.9 301.1 L317.0 301.9 L318.1 303.8 L319.3 300.4 L320.4 300.6 L321.5 301.9 L322.7 303.8 L323.8 301.3 L324.9 300.8 L326.1 300.8 L327.2 300.4 L328.3 301.3 L329.4 300.7 L330.6 301.6 L331.7 303.0 L332.8 301.9 L334.0 302.8 L335.1 301.8 L336.2 302.7 L337.3 302.3 L338.5 301.1 L339.6 301.7 L340.7 304.1 L341.9 302.7 L343.0 304.1 L344.1 302.3 L345.2 301.5 L346.4 303.2 L347.5 301.6 L348.6 302.6 L349.8 301.0 L350.9 300.6 L352.0 301.0 L353.2 302.2 L354.3 304.5 L355.4 300.7 L356.5 302.5 L357.7 302.6 L358.8 303.1 L359.9 301.2 L361.1 300.9 L362.2 301.7 L363.3 305.0 L364.4 301.8 L365.6 314.0 L366.7 302.1 L367.8 300.4 L369.0 301.0 L370.1 301.6 L371.2 301.8 L372.4 300.9 L373.5 301.9 L374.6 302.2 L375.7 302.5 L376.9 301.0 L378.0 301.6 L379.1 300.5 L380.3 302.6 L381.4 304.4 L382.5 309.9 L383.6 309.3 L384.8 315.7 L385.9 307.6 L387.0 312.2 L388.2 309.7 L389.3 315.0 L390.4 312.0 L391.6 314.4 L392.7 307.9 L393.8 313.3 L394.9 312.6 L396.1 311.1 L397.2 314.4 L398.3 315.1 L399.5 307.3 L400.6 309.2 L401.7 310.0 L402.8 308.3 L404.0 306.7 L405.1 309.1 L406.2 308.2 L407.4 313.7 L408.5 310.9 L409.6 307.2 L410.7 309.6 L411.9 311.2 L413.0 302.8 L414.1 302.1 L415.3 302.2 L416.4 301.6 L417.5 301.5 L418.7 304.4 L419.8 301.5 L420.9 303.9 L422.0 302.8 L423.2 303.7 L424.3 301.7 L425.4 303.0 L426.6 302.7 L427.7 302.5 L428.8 301.9 L429.9 301.6 L431.1 301.5 L432.2 303.7 L433.3 302.7 L434.5 304.3 L435.6 304.4 L436.7 302.2 L437.9 302.5 L439.0 301.4 L440.1 302.4 L441.2 304.5 L442.4 301.9 L443.5 302.2 L444.6 302.7 L445.8 302.4 L446.9 303.8 L448.0 303.7 L449.1 304.8 L450.3 302.9 L451.4 304.1 L452.5 302.8 L453.7 304.0 L454.8 301.9 L455.9 302.4 L457.0 302.1 L458.2 302.8 L459.3 302.9 L460.4 303.1 L461.6 303.7 L462.7 303.9 L463.8 301.4 L465.0 301.9 L466.1 303.7 L467.2 302.4 L468.3 302.6 L469.5 303.9 L470.6 305.0 L471.7 303.8 L472.9 303.5 L474.0 301.5 L475.1 302.2 L476.2 302.7 L477.4 302.0 L478.5 301.8 L479.6 301.8 L480.8 302.4 L481.9 305.9 L483.0 303.1 L484.2 301.8 L485.3 301.7 L486.4 302.5 L487.5 301.8 L488.7 301.4 L489.8 301.5 L490.9 303.3 L492.1 304.4 L493.2 301.8 L494.3 303.2 L495.4 301.9 L496.6 304.0 L497.7 303.3 L498.8 301.6 L500.0 302.4 L501.1 313.0 L502.2 314.0 L503.4 314.4 L504.5 310.0 L505.6 310.8 L506.7 311.7 L507.9 312.4 L509.0 311.1 L510.1 310.2 L511.3 309.5 L512.4 310.9 L513.5 311.8 L514.6 314.8 L515.8 302.2 L516.9 303.6 L518.0 302.6 L519.2 305.1 L520.3 301.3 L521.4 303.0 L522.5 302.8 L523.7 303.1 L524.8 301.6 L525.9 301.8 L527.1 301.6 L528.2 304.6 L529.3 302.5 L530.5 303.2 L531.6 300.9 L532.7 301.1 L533.8 302.2 L535.0 300.9 L536.1 300.9 L537.2 301.6 L538.4 303.1 L539.5 301.3 L540.6 300.8 L541.7 301.5 L542.9 302.1 L544.0 302.2 L545.1 301.5 L546.3 302.9 L547.4 301.0 L548.5 301.3 L549.7 312.0 L550.8 302.2 L551.9 311.0 L553.0 301.4 L554.2 300.9 L555.3 301.5 L556.4 301.6 L557.6 302.4 L558.7 301.8 L559.8 300.6 L560.9 302.7 L562.1 301.8 L563.2 301.0 L564.3 301.4 L565.5 301.0 L566.6 303.0 L567.7 300.8 L568.9 302.2 L570.0 301.5 L571.1 302.3 L572.2 301.5 L573.4 302.1 L574.5 302.3 L575.6 301.3 L576.8 303.6 L577.9 304.7 L579.0 304.2 L580.3 332.6 L581.3 301.4 L582.4 301.5 L583.5 316.0 L584.7 302.8 L585.8 304.6 L586.9 303.5 L588.0 301.8 L589.2 302.6 L590.3 312.0 L591.4 301.8 L592.6 316.0 L593.7 300.8 L594.8 300.8 L596.0 301.6 L597.1 310.0 L598.2 301.5 L599.3 303.3 L600.5 318.0 L601.6 302.3 L602.7 303.2 L603.9 313.0 L605.0 304.3 L606.1 302.1 L607.2 301.4 L608.4 301.4 L609.5 300.6 L610.6 302.2 L611.8 300.8 L612.9 303.3 L614.0 301.0 L615.2 301.4 L616.3 302.7 L617.4 302.7 L618.6 473.5 L619.7 301.5 L620.8 303.0 L621.9 301.3 L623.1 302.4 L624.2 301.9 L625.3 300.9 L626.4 301.4 L627.6 303.0 L628.7 301.8 L629.8 300.6 L631.0 301.8 L632.1 303.8 L633.2 301.7 L634.3 301.4 L635.5 301.0 L636.6 301.5 L637.7 300.7 L638.9 301.0 L640.0 301.7 L641.1 302.0 L642.3 301.1 L643.4 301.3 L644.5 302.2 L645.6 302.9 L646.8 303.5 L647.9 303.3 L649.0 301.3 L650.2 302.2 L651.3 304.7 L652.4 308.0 L653.5 374.4 L654.7 314.0 L655.8 302.3 L656.9 316.0 L658.1 302.9 L659.2 301.7 L660.3 311.0 L661.5 301.7 L662.6 303.1 L663.7 302.2 L664.8 301.9 L666.0 302.5 L667.1 303.5 L668.2 303.5 L669.4 302.9 L670.5 301.1 L671.6 301.1 L672.7 301.2 L673.9 301.7 L675.0 302.5 L676.1 302.1 L677.3 301.7 L678.4 300.9 L679.5 301.9 L680.7 302.1 L681.8 302.2 L682.9 301.4 L684.0 300.7 L685.2 300.8 L686.3 302.0 L687.4 301.4 L688.6 302.6 L689.7 300.9 L690.8 301.1 L691.9 300.6 L693.1 302.2 L694.2 302.7 L695.3 300.8 L696.5 302.0 L697.6 302.0 L698.7 300.6 L699.8 311.0 L701.0 301.5 L702.1 305.6 L703.2 312.0 L704.4 302.9 L705.5 311.5 L706.6 301.1 L707.8 304.2 L708.9 301.0 L710.0 303.1 L711.1 301.7 L712.3 301.9 L713.4 301.2 L714.5 303.7 L715.7 303.6 L716.8 303.6 L717.9 301.2 L719.0 302.0 L720.2 300.8 L721.3 303.5 L722.4 303.2 L723.6 300.7 L724.7 301.9 L725.8 302.4 L727.0 301.1 L728.1 301.0 L729.2 301.4 L730.3 302.0 L731.5 302.7 L732.6 300.7 L733.7 301.5 L734.9 301.6 L736.0 300.8 L737.1 302.3 L738.2 300.7 L739.4 300.8 L740.5 302.0 L741.6 302.0 L742.8 302.8 L743.9 301.4 L745.0 301.0 L746.2 301.6 L747.3 302.0 L748.4 301.2 L749.5 301.6 L750.7 303.3 L751.8 304.6 L752.9 301.9 L754.1 302.8 L755.2 304.0 L756.3 301.2 L757.4 301.0 L758.6 301.6 L759.7 302.7 L760.8 302.3 L762.0 300.7 L763.1 300.9 L764.2 302.5 L765.3 301.1 L766.5 301.1 L767.6 304.4 L768.7 301.0 L769.9 300.8 L771.0 302.0 L772.1 301.7 L773.3 300.8 L774.4 300.9 L775.5 303.4 L776.6 301.0 L777.8 302.4 L778.9 301.4 L780.0 302.9 L781.2 302.3 L782.3 302.6 L783.4 301.6 L784.5 303.4 L785.7 303.0 L786.8 301.2 L787.9 303.5 L789.1 308.0 L790.2 301.8 L791.3 301.8 L792.5 301.4 L793.6 301.5 L794.7 304.2 L795.8 301.4 L797.0 303.2 L798.1 303.7 L799.2 310.0 L800.4 302.2 L801.5 312.0 L802.6 303.2 L803.7 302.8 L804.9 302.1 L806.0 300.9 L807.1 301.1 L808.3 301.1 L809.4 300.9 L810.5 301.7 L811.6 301.8 L812.8 303.0 L813.9 300.7 L815.0 300.7 L816.2 302.6 L817.3 304.7 L818.4 300.9 L819.6 305.5 L820.7 302.7 L821.8 302.9 L822.9 301.5 L824.1 300.9 L825.2 302.2 L826.3 301.5 L827.5 301.2 L828.6 302.5 L829.7 303.0 L830.8 303.4 L832.0 302.4 L833.1 302.6 L834.2 301.6 L835.4 302.5 L836.5 301.8 L837.6 301.9 L838.8 302.6 L839.9 302.0 L841.0 303.2 L842.1 300.7 L843.3 303.4 L844.4 300.9 L845.5 303.7 L846.7 301.7 L847.8 303.5 L849.4 485.6 L850.0 300.9 L851.2 301.0 L852.3 302.8 L853.4 301.5 L854.6 300.9 L855.7 302.6 L856.8 300.7 L858.0 302.3 L859.1 303.2 L860.2 304.1 L861.3 304.7 L862.5 301.0 L863.6 303.6 L864.7 301.0 L865.9 300.8 L867.0 301.0 L868.1 301.1 L869.2 302.9 L870.4 300.6 L871.5 302.4 L872.3 325.5 L873.8 301.3 L874.9 301.4 L876.0 301.9 L877.1 303.2 L878.3 301.5 L879.4 301.1 L880.5 303.7 L881.7 301.2 L882.8 310.0 L883.9 305.6 L885.1 303.2 L886.2 300.6 L887.3 302.4 L888.4 303.3 L889.6 302.1 L890.7 307.2 L891.8 300.9 L893.0 305.9 L894.1 300.5 L895.2 305.2 L896.3 303.2 L897.5 310.0 L898.6 301.2 L899.7 306.7 L900.9 305.0 L902.0 310.6 L903.1 310.9 L904.3 307.4 L905.4 302.0 L906.5 302.3 L907.6 302.4 L908.8 304.3 L909.9 302.0 L911.0 311.3 L912.2 313.5 L913.3 313.1 L914.4 311.7 L915.5 314.5 L916.7 311.4 L917.8 312.8 L918.9 311.1 L920.1 314.0 L921.2 314.0 L922.3 311.6 L923.5 313.5 L924.6 313.8 L925.7 311.6 L926.8 311.8 L928.0 300.2 L929.1 303.6 L930.2 300.1 L931.4 301.2 L932.5 302.1 L933.6 301.4 L934.7 300.9 L935.9 303.1 L937.0 301.6 L938.1 300.7 L939.3 303.4 L940.4 301.8 L941.5 302.2 L942.6 300.5 L943.8 300.7 L944.9 303.6 L946.0 309.8 L947.2 308.1 L948.3 308.7 L949.4 313.8 L950.6 308.1 L951.7 313.5 L952.8 308.9 L953.9 312.4 L955.1 308.6 L956.2 309.0 L957.3 312.1 L958.5 308.5 L959.6 310.0 L960.7 304.8 L961.8 302.9 L963.0 301.8 L964.1 304.1 L965.2 303.8 L966.4 301.7 L967.5 300.7 L968.6 301.1 L969.8 303.1 L970.9 306.2 L972.0 309.0 L973.1 307.4 L974.3 308.6 L975.4 306.6 L976.5 324.5 L977.7 300.2" fill="none" stroke="#b30000" stroke-width="0.8" stroke-opacity="0.07"/>
<path d="M155.5 304.4h0M156.7 301.5h0M157.8 306.0h0M158.9 313.0h0M160.0 303.1h0M161.2 313.6h0M162.3 301.2h0M163.4 302.7h0M164.6 302.4h0M165.7 300.9h0M166.8 301.7h0M167.9 300.8h0M169.1 302.6h0M170.2 302.2h0M171.3 300.7h0M172.5 301.9h0M173.6 301.9h0M174.7 301.9h0M175.9 300.8h0M177.0 301.7h0M178.1 301.2h0M179.2 301.9h0M180.4 302.3h0M181.5 304.8h0M182.6 301.0h0M183.8 302.6h0M184.9 302.1h0M186.0 301.9h0M187.1 301.8h0M188.3 301.6h0M189.4 301.2h0M190.5 300.8h0M191.7 301.2h0M192.8 301.9h0M193.9 300.4h0M195.1 301.6h0M196.2 300.7h0M197.3 301.7h0M198.4 303.0h0M199.6 301.0h0M200.7 301.0h0M201.8 301.3h0M203.0 300.6h0M204.1 301.2h0M205.2 300.8h0M206.3 303.8h0M207.5 301.8h0M208.6 301.8h0M209.7 302.1h0M210.9 303.2h0M212.0 301.3h0M213.1 301.8h0M214.3 300.7h0M215.4 302.1h0M216.5 301.6h0M217.6 300.7h0M218.8 302.4h0M219.9 301.0h0M221.5 400.5h0M222.2 302.4h0M223.3 302.3h0M224.4 302.5h0M225.5 300.7h0M226.7 304.3h0M227.8 301.9h0M228.9 301.3h0M230.1 300.5h0M231.2 302.9h0M232.3 301.3h0M233.4 304.0h0M234.6 310.0h0M235.7 301.9h0M236.8 301.8h0M238.0 300.8h0M239.1 300.6h0M240.2 302.2h0M241.4 301.7h0M242.5 302.3h0M243.6 301.1h0M244.7 302.1h0M245.9 301.4h0M247.0 301.0h0M248.1 301.3h0M249.3 301.7h0M250.4 300.9h0M251.5 301.1h0M252.6 302.0h0M253.8 301.0h0M254.9 301.9h0M256.0 300.4h0M257.2 301.8h0M258.3 301.0h0M259.4 300.5h0M260.6 301.3h0M261.7 311.5h0M263.9 312.8h0M267.3 315.2h0M270.7 311.2h0M271.8 301.8h0M273.0 303.6h0M274.1 302.6h0M275.2 301.0h0M276.4 304.1h0M277.5 301.0h0M278.6 301.1h0M279.7 300.5h0M280.9 300.8h0M282.0 301.5h0M283.1 302.8h0M284.3 301.5h0M285.4 301.9h0M286.5 301.9h0M287.7 302.7h0M288.8 300.4h0M289.9 303.9h0M291.0 301.9h0M292.2 302.4h0M293.3 300.8h0M294.4 301.2h0M295.6 302.9h0M296.7 301.9h0M297.8 300.5h0M298.9 300.9h0M300.1 301.4h0M301.2 300.7h0M302.3 324.5h0M303.5 301.8h0M304.6 309.6h0M305.7 300.7h0M306.9 301.4h0M308.0 302.8h0M309.1 301.9h0M310.2 303.5h0M311.4 303.0h0M312.5 301.6h0M313.6 300.5h0M314.8 302.3h0M315.9 301.1h0M317.0 301.9h0M318.1 303.8h0M319.3 300.4h0M320.4 300.6h0M321.5 301.9h0M322.7 303.8h0M323.8 301.3h0M324.9 300.8h0M326.1 300.8h0M327.2 300.4h0M328.3 301.3h0M329.4 300.7h0M330.6 301.6h0M331.7 303.0h0M332.8 301.9h0M334.0 302.8h0M335.1 301.8h0M336.2 302.7h0M337.3 302.3h0M338.5 301.1h0M339.6 301.7h0M340.7 304.1h0M341.9 302.7h0M343.0 304.1h0M344.1 302.3h0M345.2 301.5h0M346.4 303.2h0M347.5 301.6h0M348.6 302.6h0M349.8 301.0h0M350.9 300.6h0M352.0 301.0h0M353.2 302.2h0M354.3 304.5h0M355.4 300.7h0M356.5 302.5h0M357.7 302.6h0M358.8 303.1h0M359.9 301.2h0M361.1 300.9h0M362.2 301.7h0M363.3 305.0h0M364.4 301.8h0M365.6 314.0h0M366.7 302.1h0M367.8 300.4h0M369.0 301.0h0M370.1 301.6h0M371.2 301.8h0M372.4 300.9h0M373.5 301.9h0M374.6 302.2h0M375.7 302.5h0M376.9 301.0h0M378.0 301.6h0M379.1 300.5h0M380.3 302.6h0M381.4 304.4h0M382.5 309.9h0M383.6 309.3h0M384.8 315.7h0M385.9 307.6h0M387.0 312.2h0M388.2 309.7h0M389.3 315.0h0M390.4 312.0h0M391.6 314.4h0M392.7 307.9h0M393.8 313.3h0M394.9 312.6h0M396.1 311.1h0M397.2 314.4h0M398.3 315.1h0M399.5 307.3h0M400.6 309.2h0M401.7 310.0h0M402.8 308.3h0M404.0 306.7h0M405.1 309.1h0M406.2 308.2h0M407.4 313.7h0M408.5 310.9h0M409.6 307.2h0M410.7 309.6h0M411.9 311.2h0M413.0 302.8h0M414.1 302.1h0M415.3 302.2h0M416.4 301.6h0M417.5 301.5h0M418.7 304.4h0M419.8 301.5h0M420.9 303.9h0M422.0 302.8h0M423.2 303.7h0M424.3 301.7h0M425.4 303.0h0M426.6 302.7h0M427.7 302.5h0M428.8 301.9h0M429.9 301.6h0M431.1 301.5h0M432.2 303.7h0M433.3 302.7h0M434.5 304.3h0M435.6 304.4h0M436.7 302.2h0M437.9 302.5h0M439.0 301.4h0M440.1 302.4h0M441.2 304.5h0M442.4 301.9h0M443.5 302.2h0M444.6 302.7h0M445.8 302.4h0M446.9 303.8h0M448.0 303.7h0M449.1 304.8h0M450.3 302.9h0M451.4 304.1h0M452.5 302.8h0M453.7 304.0h0M454.8 301.9h0M455.9 302.4h0M457.0 302.1h0M458.2 302.8h0M459.3 302.9h0M460.4 303.1h0M461.6 303.7h0M462.7 303.9h0M463.8 301.4h0M465.0 301.9h0M466.1 303.7h0M467.2 302.4h0M468.3 302.6h0M469.5 303.9h0M470.6 305.0h0M471.7 303.8h0M472.9 303.5h0M474.0 301.5h0M475.1 302.2h0M476.2 302.7h0M477.4 302.0h0M478.5 301.8h0M479.6 301.8h0M480.8 302.4h0M481.9 305.9h0M483.0 303.1h0M484.2 301.8h0M485.3 301.7h0M486.4 302.5h0M487.5 301.8h0M488.7 301.4h0M489.8 301.5h0M490.9 303.3h0M492.1 304.4h0M493.2 301.8h0M494.3 303.2h0M495.4 301.9h0M496.6 304.0h0M497.7 303.3h0M498.8 301.6h0M500.0 302.4h0M501.1 313.0h0M502.2 314.0h0M503.4 314.4h0M504.5 310.0h0M505.6 310.8h0M506.7 311.7h0M507.9 312.4h0M509.0 311.1h0M510.1 310.2h0M511.3 309.5h0M512.4 310.9h0M513.5 311.8h0M514.6 314.8h0M515.8 302.2h0M516.9 303.6h0M518.0 302.6h0M519.2 305.1h0M520.3 301.3h0M521.4 303.0h0M522.5 302.8h0M523.7 303.1h0M524.8 301.6h0M525.9 301.8h0M527.1 301.6h0M528.2 304.6h0M529.3 302.5h0M530.5 303.2h0M531.6 300.9h0M532.7 301.1h0M533.8 302.2h0M535.0 300.9h0M536.1 300.9h0M537.2 301.6h0M538.4 303.1h0M539.5 301.3h0M540.6 300.8h0M541.7 301.5h0M542.9 302.1h0M544.0 302.2h0M545.1 301.5h0M546.3 302.9h0M547.4 301.0h0M548.5 301.3h0M549.7 312.0h0M550.8 302.2h0M551.9 311.0h0M553.0 301.4h0M554.2 300.9h0M555.3 301.5h0M556.4 301.6h0M557.6 302.4h0M558.7 301.8h0M559.8 300.6h0M560.9 302.7h0M562.1 301.8h0M563.2 301.0h0M564.3 301.4h0M565.5 301.0h0M566.6 303.0h0M567.7 300.8h0M568.9 302.2h0M570.0 301.5h0M571.1 302.3h0M572.2 301.5h0M573.4 302.1h0M574.5 302.3h0M575.6 301.3h0M576.8 303.6h0M577.9 304.7h0M579.0 304.2h0M580.3 332.6h0M581.3 301.4h0M582.4 301.5h0M583.5 316.0h0M584.7 302.8h0M585.8 304.6h0M586.9 303.5h0M588.0 301.8h0M589.2 302.6h0M590.3 312.0h0M591.4 301.8h0M592.6 316.0h0M593.7 300.8h0M594.8 300.8h0M596.0 301.6h0M597.1 310.0h0M598.2 301.5h0M599.3 303.3h0M600.5 318.0h0M601.6 302.3h0M602.7 303.2h0M603.9 313.0h0M605.0 304.3h0M606.1 302.1h0M607.2 301.4h0M608.4 301.4h0M609.5 300.6h0M610.6 302.2h0M611.8 300.8h0M612.9 303.3h0M614.0 301.0h0M615.2 301.4h0M616.3 302.7h0M617.4 302.7h0M618.6 473.5h0M619.7 301.5h0M620.8 303.0h0M621.9 301.3h0M623.1 302.4h0M624.2 301.9h0M625.3 300.9h0M626.4 301.4h0M627.6 303.0h0M628.7 301.8h0M629.8 300.6h0M631.0 301.8h0M632.1 303.8h0M633.2 301.7h0M634.3 301.4h0M635.5 301.0h0M636.6 301.5h0M637.7 300.7h0M638.9 301.0h0M640.0 301.7h0M641.1 302.0h0M642.3 301.1h0M643.4 301.3h0M644.5 302.2h0M645.6 302.9h0M646.8 303.5h0M647.9 303.3h0M649.0 301.3h0M650.2 302.2h0M651.3 304.7h0M652.4 308.0h0M653.5 374.4h0M654.7 314.0h0M655.8 302.3h0M656.9 316.0h0M658.1 302.9h0M659.2 301.7h0M660.3 311.0h0M661.5 301.7h0M662.6 303.1h0M663.7 302.2h0M664.8 301.9h0M666.0 302.5h0M667.1 303.5h0M668.2 303.5h0M669.4 302.9h0M670.5 301.1h0M671.6 301.1h0M672.7 301.2h0M673.9 301.7h0M675.0 302.5h0M676.1 302.1h0M677.3 301.7h0M678.4 300.9h0M679.5 301.9h0M680.7 302.1h0M681.8 302.2h0M682.9 301.4h0M684.0 300.7h0M685.2 300.8h0M686.3 302.0h0M687.4 301.4h0M688.6 302.6h0M689.7 300.9h0M690.8 301.1h0M691.9 300.6h0M693.1 302.2h0M694.2 302.7h0M695.3 300.8h0M696.5 302.0h0M697.6 302.0h0M698.7 300.6h0M699.8 311.0h0M701.0 301.5h0M702.1 305.6h0M703.2 312.0h0M704.4 302.9h0M705.5 311.5h0M706.6 301.1h0M707.8 304.2h0M708.9 301.0h0M710.0 303.1h0M711.1 301.7h0M712.3 301.9h0M713.4 301.2h0M714.5 303.7h0M715.7 303.6h0M716.8 303.6h0M717.9 301.2h0M719.0 302.0h0M720.2 300.8h0M721.3 303.5h0M722.4 303.2h0M723.6 300.7h0M724.7 301.9h0M725.8 302.4h0M727.0 301.1h0M728.1 301.0h0M729.2 301.4h0M730.3 302.0h0M731.5 302.7h0M732.6 300.7h0M733.7 301.5h0M734.9 301.6h0M736.0 300.8h0M737.1 302.3h0M738.2 300.7h0M739.4 300.8h0M740.5 302.0h0M741.6 302.0h0M742.8 302.8h0M743.9 301.4h0M745.0 301.0h0M746.2 301.6h0M747.3 302.0h0M748.4 301.2h0M749.5 301.6h0M750.7 303.3h0M751.8 304.6h0M752.9 301.9h0M754.1 302.8h0M755.2 304.0h0M756.3 301.2h0M757.4 301.0h0M758.6 301.6h0M759.7 302.7h0M760.8 302.3h0M762.0 300.7h0M763.1 300.9h0M764.2 302.5h0M765.3 301.1h0M766.5 301.1h0M767.6 304.4h0M768.7 301.0h0M769.9 300.8h0M771.0 302.0h0M772.1 301.7h0M773.3 300.8h0M774.4 300.9h0M775.5 303.4h0M776.6 301.0h0M777.8 302.4h0M778.9 301.4h0M780.0 302.9h0M781.2 302.3h0M782.3 302.6h0M783.4 301.6h0M784.5 303.4h0M785.7 303.0h0M786.8 301.2h0M787.9 303.5h0M789.1 308.0h0M790.2 301.8h0M791.3 301.8h0M792.5 301.4h0M793.6 301.5h0M794.7 304.2h0M795.8 301.4h0M797.0 303.2h0M798.1 303.7h0M799.2 310.0h0M800.4 302.2h0M801.5 312.0h0M802.6 303.2h0M803.7 302.8h0M804.9 302.1h0M806.0 300.9h0M807.1 301.1h0M808.3 301.1h0M809.4 300.9h0M810.5 301.7h0M811.6 301.8h0M812.8 303.0h0M813.9 300.7h0M815.0 300.7h0M816.2 302.6h0M817.3 304.7h0M818.4 300.9h0M819.6 305.5h0M820.7 302.7h0M821.8 302.9h0M822.9 301.5h0M824.1 300.9h0M825.2 302.2h0M826.3 301.5h0M827.5 301.2h0M828.6 302.5h0M829.7 303.0h0M830.8 303.4h0M832.0 302.4h0M833.1 302.6h0M834.2 301.6h0M835.4 302.5h0M836.5 301.8h0M837.6 301.9h0M838.8 302.6h0M839.9 302.0h0M841.0 303.2h0M842.1 300.7h0M843.3 303.4h0M844.4 300.9h0M845.5 303.7h0M846.7 301.7h0M847.8 303.5h0M849.4 485.6h0M850.0 300.9h0M851.2 301.0h0M852.3 302.8h0M853.4 301.5h0M854.6 300.9h0M855.7 302.6h0M856.8 300.7h0M858.0 302.3h0M859.1 303.2h0M860.2 304.1h0M861.3 304.7h0M862.5 301.0h0M863.6 303.6h0M864.7 301.0h0M865.9 300.8h0M867.0 301.0h0M868.1 301.1h0M869.2 302.9h0M870.4 300.6h0M871.5 302.4h0M872.3 325.5h0M873.8 301.3h0M874.9 301.4h0M876.0 301.9h0M877.1 303.2h0M878.3 301.5h0M879.4 301.1h0M880.5 303.7h0M881.7 301.2h0M882.8 310.0h0M883.9 305.6h0M885.1 303.2h0M886.2 300.6h0M887.3 302.4h0M888.4 303.3h0M889.6 302.1h0M890.7 307.2h0M891.8 300.9h0M893.0 305.9h0M894.1 300.5h0M895.2 305.2h0M896.3 303.2h0M897.5 310.0h0M898.6 301.2h0M899.7 306.7h0M900.9 305.0h0M902.0 310.6h0M903.1 310.9h0M904.3 307.4h0M905.4 302.0h0M906.5 302.3h0M907.6 302.4h0M908.8 304.3h0M909.9 302.0h0M911.0 311.3h0M912.2 313.5h0M913.3 313.1h0M914.4 311.7h0M915.5 314.5h0M916.7 311.4h0M917.8 312.8h0M918.9 311.1h0M920.1 314.0h0M921.2 314.0h0M922.3 311.6h0M923.5 313.5h0M924.6 313.8h0M925.7 311.6h0M926.8 311.8h0M928.0 300.2h0M929.1 303.6h0M930.2 300.1h0M931.4 301.2h0M932.5 302.1h0M933.6 301.4h0M934.7 300.9h0M935.9 303.1h0M937.0 301.6h0M938.1 300.7h0M939.3 303.4h0M940.4 301.8h0M941.5 302.2h0M942.6 300.5h0M943.8 300.7h0M944.9 303.6h0M946.0 309.8h0M947.2 308.1h0M948.3 308.7h0M949.4 313.8h0M950.6 308.1h0M951.7 313.5h0M952.8 308.9h0M953.9 312.4h0M955.1 308.6h0M956.2 309.0h0M957.3 312.1h0M958.5 308.5h0M959.6 310.0h0M960.7 304.8h0M961.8 302.9h0M963.0 301.8h0M964.1 304.1h0M965.2 303.8h0M966.4 301.7h0M967.5 300.7h0M968.6 301.1h0M969.8 303.1h0M970.9 306.2h0M972.0 309.0h0M973.1 307.4h0M974.3 308.6h0M975.4 306.6h0M976.5 324.5h0M977.7 300.2h0" fill="none" stroke="#b30000" stroke-width="6.4" stroke-linecap="round"/>
<path d="M155.5 269.3 L156.7 261.9 L157.8 262.5 L158.9 261.6 L160.0 262.1 L161.2 262.1 L162.3 261.5 L163.4 262.1 L164.6 262.2 L165.7 262.4 L166.8 261.8 L167.9 262.5 L169.1 262.0 L170.2 262.0 L171.3 262.4 L172.5 268.0 L173.6 262.2 L174.7 262.1 L175.9 261.8 L177.0 262.4 L178.1 261.9 L179.2 262.0 L180.4 253.6 L181.5 253.9 L182.6 253.3 L183.8 253.5 L184.9 253.5 L186.0 253.7 L187.1 253.9 L188.3 262.3 L189.4 262.8 L190.5 262.4 L191.7 262.5 L192.8 262.3 L193.9 262.5 L195.1 259.0 L196.2 262.7 L197.3 262.8 L198.4 253.6 L199.6 253.6 L200.7 253.6 L201.8 253.9 L203.0 263.1 L204.1 263.3 L205.2 262.5 L206.3 263.2 L207.5 263.4 L208.6 263.0 L209.7 262.5 L210.9 253.8 L212.0 253.5 L213.1 253.7 L214.3 254.4 L215.4 254.1 L216.5 254.2 L217.6 254.3 L218.8 254.4 L219.9 254.1 L221.5 371.4 L222.2 254.1 L223.3 254.2 L224.4 254.1 L225.5 254.2 L226.7 253.7 L227.8 254.2 L228.9 254.0 L230.1 254.3 L231.2 253.6 L232.3 253.7 L233.4 253.5 L234.6 254.3 L235.7 254.4 L236.8 254.2 L238.0 253.9 L239.1 254.3 L240.2 254.3 L241.4 254.1 L242.5 253.8 L243.6 253.8 L244.7 253.9 L245.9 253.8 L247.0 253.9 L248.1 254.1 L249.3 254.4 L250.4 259.0 L251.5 264.0 L252.6 253.5 L253.8 253.6 L254.9 254.3 L256.0 254.1 L257.2 254.4 L258.3 253.9 L259.4 253.5 L260.6 253.9 L261.7 254.1 L262.8 254.4 L263.9 254.5 L265.1 254.0 L266.2 253.9 L267.3 253.6 L268.5 254.1 L269.6 253.7 L270.7 253.7 L271.8 253.5 L273.0 253.5 L274.1 254.2 L275.2 253.6 L276.4 254.5 L277.5 253.6 L278.6 254.4 L279.7 253.6 L280.9 253.5 L282.0 254.2 L283.1 253.7 L284.3 254.2 L285.4 253.7 L286.5 253.6 L287.7 254.3 L288.8 254.2 L289.9 254.4 L291.0 254.2 L292.2 253.6 L293.3 254.1 L294.4 254.2 L295.6 254.0 L296.7 254.4 L297.8 253.8 L298.9 264.7 L300.1 254.2 L301.2 253.5 L302.3 253.5 L303.5 262.2 L304.6 262.3 L305.7 261.6 L306.9 261.8 L308.0 262.2 L309.1 261.7 L310.2 264.9 L311.4 264.5 L312.5 264.1 L313.6 264.4 L314.8 271.5 L315.9 264.4 L317.0 264.7 L318.1 261.6 L319.3 262.3 L320.4 261.9 L321.5 262.1 L322.7 254.6 L323.8 254.4 L324.9 254.4 L326.1 254.8 L327.2 254.9 L328.3 254.8 L329.4 254.6 L330.6 254.3 L331.7 254.1 L332.8 255.0 L334.0 254.7 L335.1 259.0 L336.2 254.3 L337.3 254.6 L338.5 255.0 L339.6 254.8 L340.7 254.6 L341.9 254.3 L343.0 254.4 L344.1 254.9 L345.2 258.0 L346.4 254.7 L347.5 254.6 L348.6 254.9 L349.8 254.8 L350.9 254.3 L352.0 254.0 L353.2 254.3 L354.3 254.4 L355.4 254.6 L356.5 254.8 L357.7 254.9 L358.8 254.0 L359.9 254.8 L361.1 254.8 L362.2 254.9 L363.3 254.6 L364.4 254.3 L365.6 254.9 L366.7 268.0 L367.8 254.7 L369.0 254.9 L370.1 254.3 L371.2 254.1 L372.4 254.6 L373.5 254.8 L374.6 254.2 L375.7 254.8 L376.9 254.9 L378.0 254.2 L379.1 254.6 L380.3 254.7 L381.4 254.5 L382.5 254.2 L383.6 254.3 L384.8 254.8 L385.9 254.8 L387.0 254.5 L388.2 254.1 L389.3 254.8 L390.4 254.8 L391.6 261.0 L392.7 254.6 L393.8 254.9 L394.9 254.9 L396.1 254.5 L397.2 254.5 L398.3 254.6 L399.5 262.0 L400.6 254.2 L401.7 254.2 L402.8 266.0 L404.0 254.4 L405.1 254.6 L406.2 264.0 L407.4 254.5 L408.5 254.1 L409.6 254.0 L410.7 255.0 L411.9 254.4 L413.0 254.1 L414.1 254.6 L415.3 254.8 L416.4 254.2 L417.5 254.6 L418.7 254.3 L419.8 254.5 L420.9 254.0 L422.0 254.0 L423.2 255.0 L424.3 254.9 L425.4 254.5 L426.6 254.6 L427.7 254.3 L428.8 254.8 L429.9 254.4 L431.1 254.9 L432.2 254.8 L433.3 258.0 L434.5 255.0 L435.6 254.3 L436.7 254.0 L437.9 254.2 L439.0 254.2 L440.1 259.0 L441.2 254.1 L442.4 254.6 L443.5 254.9 L444.6 254.5 L445.8 254.9 L446.9 254.9 L448.0 254.1 L449.1 259.0 L450.3 254.4 L451.4 254.1 L452.5 255.0 L453.7 254.3 L454.8 254.6 L455.9 254.6 L457.0 264.5 L458.2 254.7 L459.3 254.4 L460.4 254.4 L461.6 254.2 L462.7 255.0 L463.8 255.0 L465.0 254.2 L466.1 254.0 L467.2 254.3 L468.3 254.4 L469.5 258.0 L470.6 254.9 L471.7 254.8 L472.9 254.0 L474.0 254.8 L475.1 254.7 L476.2 254.6 L477.4 255.0 L478.5 254.1 L479.6 254.1 L480.8 254.8 L481.9 254.9 L483.0 254.7 L484.2 254.3 L485.3 254.6 L486.4 254.8 L487.5 254.1 L488.7 254.3 L489.8 254.3 L490.9 254.1 L492.1 254.5 L493.2 254.2 L494.3 254.2 L495.4 254.1 L496.6 254.7 L497.7 254.0 L498.8 254.7 L500.0 254.2 L501.1 254.0 L502.2 254.9 L503.4 254.2 L504.5 262.0 L505.6 254.9 L506.7 254.9 L507.9 254.1 L509.0 254.4 L510.1 254.1 L511.3 254.9 L512.4 254.8 L513.5 254.6 L514.6 254.5 L515.8 254.3 L516.9 254.8 L518.0 265.5 L519.2 254.6 L520.3 254.1 L521.4 254.2 L522.5 254.1 L523.7 254.7 L524.8 254.6 L525.9 254.1 L527.1 254.9 L528.2 263.0 L529.3 254.4 L530.5 254.2 L531.6 254.3 L532.7 254.8 L533.8 254.3 L535.0 254.2 L536.1 254.5 L537.2 254.3 L538.4 254.9 L539.5 254.1 L540.6 266.0 L541.7 265.1 L542.9 265.9 L544.0 265.7 L545.1 265.2 L546.3 265.5 L547.4 265.3 L548.5 265.3 L549.7 265.2 L550.8 265.4 L551.9 266.0 L553.0 266.0 L554.2 265.9 L555.3 265.1 L556.4 265.3 L557.6 265.9 L558.7 265.1 L559.8 265.7 L560.9 265.3 L562.1 266.0 L563.2 265.0 L564.3 265.8 L565.5 265.3 L566.6 265.1 L567.7 265.0 L568.9 265.8 L570.0 265.5 L571.1 265.2 L572.2 265.4 L573.4 265.9 L574.5 265.2 L575.6 265.6 L576.8 265.1 L577.9 265.2 L579.0 260.3 L580.3 301.3 L581.3 243.7 L582.4 243.6 L583.5 243.6 L584.7 244.1 L585.8 244.0 L586.9 243.8 L588.0 254.2 L589.2 254.6 L590.3 254.7 L591.4 254.8 L592.6 254.6 L593.7 254.2 L594.8 254.1 L596.0 254.7 L597.1 264.5 L598.2 254.7 L599.3 254.1 L600.5 254.8 L601.6 254.3 L602.7 254.8 L603.9 259.0 L605.0 266.0 L606.1 254.0 L607.2 254.9 L608.4 254.5 L609.5 254.9 L610.6 254.3 L611.8 254.2 L612.9 254.8 L614.0 254.4 L615.2 254.2 L616.3 254.4 L617.4 254.6 L618.6 455.4 L619.7 254.5 L620.8 254.4 L621.9 254.5 L623.1 254.1 L624.2 254.7 L625.3 254.8 L626.4 254.9 L627.6 254.3 L628.7 264.7 L629.8 264.4 L631.0 264.8 L632.1 264.1 L633.2 269.4 L634.3 269.5 L635.5 269.0 L636.6 254.5 L637.7 254.5 L638.9 254.5 L640.0 254.0 L641.1 255.0 L642.3 254.2 L643.4 254.2 L644.5 254.1 L645.6 254.3 L646.8 254.8 L647.9 254.0 L649.0 254.1 L650.2 254.7 L651.3 254.2 L652.4 254.0 L653.5 334.4 L654.7 254.6 L655.8 254.5 L656.9 254.7 L658.1 254.1 L659.2 254.9 L660.3 254.7 L661.5 254.0 L662.6 254.1 L663.7 254.5 L664.8 254.5 L666.0 254.3 L667.1 254.1 L668.2 254.4 L669.4 254.1 L670.5 254.6 L671.6 254.9 L672.7 254.1 L673.9 254.6 L675.0 254.7 L676.1 254.2 L677.3 254.8 L678.4 264.5 L679.5 254.4 L680.7 254.4 L681.8 254.8 L682.9 254.5 L684.0 254.4 L685.2 261.0 L686.3 254.8 L687.4 254.3 L688.6 254.2 L689.7 254.3 L690.8 254.4 L691.9 255.0 L693.1 254.8 L694.2 254.9 L695.3 254.8 L696.5 254.8 L697.6 254.1 L698.7 254.5 L699.8 255.0 L701.0 268.0 L702.1 254.2 L703.2 254.4 L704.4 254.6 L705.5 254.4 L706.6 254.5 L707.8 254.1 L708.9 254.4 L710.0 254.5 L711.1 254.0 L712.3 254.1 L713.4 255.0 L714.5 254.8 L715.7 254.9 L716.8 254.6 L717.9 261.0 L719.0 254.9 L720.2 254.9 L721.3 254.0 L722.4 254.6 L723.6 254.3 L724.7 254.7 L725.8 254.3 L727.0 254.5 L728.1 254.9 L729.2 254.6 L730.3 254.3 L731.5 254.5 L732.6 254.4 L733.7 255.0 L734.9 254.3 L736.0 254.3 L737.1 254.6 L738.2 265.1 L739.4 265.6 L740.5 266.0 L741.6 265.5 L742.8 265.3 L743.9 265.5 L745.0 265.5 L746.2 265.1 L747.3 265.1 L748.4 265.1 L749.5 265.3 L750.7 265.4 L751.8 265.3 L752.9 265.2 L754.1 265.1 L755.2 254.0 L756.3 254.3 L757.4 244.3 L758.6 244.3 L759.7 244.4 L760.8 243.9 L762.0 244.4 L763.1 244.2 L764.2 244.2 L765.3 253.0 L766.5 244.2 L767.6 244.0 L768.7 243.9 L769.9 243.9 L771.0 244.2 L772.1 253.0 L773.3 244.3 L774.4 243.7 L775.5 244.1 L776.6 244.6 L777.8 243.9 L778.9 244.3 L780.0 244.2 L781.2 244.0 L782.3 244.7 L783.4 244.0 L784.5 244.5 L785.7 243.9 L786.8 243.8 L787.9 244.6 L789.1 244.1 L790.2 243.8 L791.3 244.1 L792.5 244.1 L793.6 244.4 L794.7 243.8 L795.8 243.9 L797.0 244.7 L798.1 244.4 L799.2 243.9 L800.4 249.8 L801.5 249.9 L802.6 250.2 L803.7 250.1 L804.9 250.3 L806.0 256.3 L807.1 256.0 L808.3 256.2 L809.4 256.2 L810.5 256.3 L811.6 256.0 L812.8 263.8 L813.9 263.7 L815.0 263.9 L816.2 263.1 L817.3 263.9 L818.4 263.0 L819.6 263.8 L820.7 263.6 L821.8 263.5 L822.9 255.0 L824.1 254.6 L825.2 254.4 L826.3 254.8 L827.5 254.9 L828.6 254.6 L829.7 254.4 L830.8 254.5 L832.0 254.5 L833.1 254.7 L834.2 254.3 L835.4 254.4 L836.5 261.0 L837.6 254.4 L838.8 254.3 L839.9 254.8 L841.0 254.8 L842.1 254.5 L843.3 254.4 L844.4 254.2 L845.5 254.3 L846.7 254.1 L847.8 254.6 L849.4 474.3 L850.0 254.1 L851.2 254.9 L852.3 254.3 L853.4 254.8 L854.6 254.8 L855.7 255.0 L856.8 254.2 L858.0 254.4 L859.1 254.9 L860.2 254.0 L861.3 254.0 L862.5 254.6 L863.6 254.5 L864.7 254.9 L865.9 254.8 L867.0 254.5 L868.1 255.0 L869.2 254.5 L870.4 254.5 L871.5 264.5 L872.3 280.5 L873.8 254.4 L874.9 254.6 L876.0 244.1 L877.1 244.6 L878.3 244.4 L879.4 244.2 L880.5 243.8 L881.7 244.1 L882.8 244.1 L883.9 244.3 L885.1 244.3 L886.2 244.6 L887.3 244.7 L888.4 244.2 L889.6 244.1 L890.7 244.3 L891.8 244.7 L893.0 244.0 L894.1 244.2 L895.2 244.5 L896.3 243.9 L897.5 244.0 L898.6 244.7 L899.7 244.5 L900.9 244.2 L902.0 243.8 L903.1 244.6 L904.3 244.4 L905.4 244.5 L906.5 244.7 L907.6 244.6 L908.8 244.1 L909.9 243.9 L911.0 244.0 L912.2 244.2 L913.3 244.2 L914.4 243.9 L915.5 243.9 L916.7 244.3 L917.8 244.3 L918.9 244.1 L920.1 244.7 L921.2 244.3 L922.3 243.7 L923.5 244.1 L924.6 244.5 L925.7 244.0 L926.8 244.4 L928.0 243.7 L929.1 244.0 L930.2 244.5 L931.4 244.3 L932.5 244.4 L933.6 243.9 L934.7 244.2 L935.9 244.3 L937.0 244.0 L938.1 248.0 L939.3 244.2 L940.4 244.7 L941.5 244.3 L942.6 244.1 L943.8 243.8 L944.9 253.7 L946.0 254.3 L947.2 256.6 L948.3 256.6 L949.4 256.7 L950.6 261.0 L951.7 261.3 L952.8 261.1 L953.9 247.3 L955.1 246.6 L956.2 246.5 L957.3 244.5 L958.5 244.0 L959.6 244.4 L960.7 244.1 L961.8 243.9 L963.0 244.0 L964.1 243.8 L965.2 244.6 L966.4 244.3 L967.5 244.0 L968.6 244.1 L969.8 244.1 L970.9 243.8 L972.0 244.6 L973.1 244.3 L974.3 244.7 L975.4 244.1 L976.5 271.4 L977.7 243.9" fill="none" stroke="#000099" stroke-width="0.8" stroke-opacity="0.07"/>
<path d="M155.5 269.3h0M156.7 261.9h0M157.8 262.5h0M158.9 261.6h0M160.0 262.1h0M161.2 262.1h0M162.3 261.5h0M163.4 262.1h0M164.6 262.2h0M165.7 262.4h0M166.8 261.8h0M167.9 262.5h0M169.1 262.0h0M170.2 262.0h0M171.3 262.4h0M172.5 268.0h0M173.6 262.2h0M174.7 262.1h0M175.9 261.8h0M177.0 262.4h0M178.1 261.9h0M179.2 262.0h0M180.4 253.6h0M181.5 253.9h0M182.6 253.3h0M183.8 253.5h0M184.9 253.5h0M186.0 253.7h0M187.1 253.9h0M188.3 262.3h0M189.4 262.8h0M190.5 262.4h0M191.7 262.5h0M192.8 262.3h0M193.9 262.5h0M195.1 259.0h0M196.2 262.7h0M197.3 262.8h0M198.4 253.6h0M199.6 253.6h0M200.7 253.6h0M201.8 253.9h0M203.0 263.1h0M204.1 263.3h0M205.2 262.5h0M206.3 263.2h0M207.5 263.4h0M208.6 263.0h0M209.7 262.5h0M210.9 253.8h0M212.0 253.5h0M213.1 253.7h0M214.3 254.4h0M215.4 254.1h0M216.5 254.2h0M217.6 254.3h0M218.8 254.4h0M219.9 254.1h0M221.5 371.4h0M222.2 254.1h0M223.3 254.2h0M224.4 254.1h0M225.5 254.2h0M226.7 253.7h0M227.8 254.2h0M228.9 254.0h0M230.1 254.3h0M231.2 253.6h0M232.3 253.7h0M233.4 253.5h0M234.6 254.3h0M235.7 254.4h0M236.8 254.2h0M238.0 253.9h0M239.1 254.3h0M240.2 254.3h0M241.4 254.1h0M242.5 253.8h0M243.6 253.8h0M244.7 253.9h0M245.9 253.8h0M247.0 253.9h0M248.1 254.1h0M249.3 254.4h0M250.4 259.0h0M251.5 264.0h0M252.6 253.5h0M253.8 253.6h0M254.9 254.3h0M256.0 254.1h0M257.2 254.4h0M258.3 253.9h0M259.4 253.5h0M260.6 253.9h0M261.7 254.1h0M262.8 254.4h0M263.9 254.5h0M265.1 254.0h0M266.2 253.9h0M267.3 253.6h0M268.5 254.1h0M269.6 253.7h0M270.7 253.7h0M271.8 253.5h0M273.0 253.5h0M274.1 254.2h0M275.2 253.6h0M276.4 254.5h0M277.5 253.6h0M278.6 254.4h0M279.7 253.6h0M280.9 253.5h0M282.0 254.2h0M283.1 253.7h0M284.3 254.2h0M285.4 253.7h0M286.5 253.6h0M287.7 254.3h0M288.8 254.2h0M289.9 254.4h0M291.0 254.2h0M292.2 253.6h0M293.3 254.1h0M294.4 254.2h0M295.6 254.0h0M296.7 254.4h0M297.8 253.8h0M298.9 264.7h0M300.1 254.2h0M301.2 253.5h0M302.3 253.5h0M303.5 262.2h0M304.6 262.3h0M305.7 261.6h0M306.9 261.8h0M308.0 262.2h0M309.1 261.7h0M310.2 264.9h0M311.4 264.5h0M312.5 264.1h0M313.6 264.4h0M314.8 271.5h0M315.9 264.4h0M317.0 264.7h0M318.1 261.6h0M319.3 262.3h0M320.4 261.9h0M321.5 262.1h0M322.7 254.6h0M323.8 254.4h0M324.9 254.4h0M326.1 254.8h0M327.2 254.9h0M328.3 254.8h0M329.4 254.6h0M330.6 254.3h0M331.7 254.1h0M332.8 255.0h0M334.0 254.7h0M335.1 259.0h0M336.2 254.3h0M337.3 254.6h0M338.5 255.0h0M339.6 254.8h0M340.7 254.6h0M341.9 254.3h0M343.0 254.4h0M344.1 254.9h0M345.2 258.0h0M346.4 254.7h0M347.5 254.6h0M348.6 254.9h0M349.8 254.8h0M350.9 254.3h0M352.0 254.0h0M353.2 254.3h0M354.3 254.4h0M355.4 254.6h0M356.5 254.8h0M357.7 254.9h0M358.8 254.0h0M359.9 254.8h0M361.1 254.8h0M362.2 254.9h0M363.3 254.6h0M364.4 254.3h0M365.6 254.9h0M366.7 268.0h0M367.8 254.7h0M369.0 254.9h0M370.1 254.3h0M371.2 254.1h0M372.4 254.6h0M373.5 254.8h0M374.6 254.2h0M375.7 254.8h0M376.9 254.9h0M378.0 254.2h0M379.1 254.6h0M380.3 254.7h0M381.4 254.5h0M382.5 254.2h0M383.6 254.3h0M384.8 254.8h0M385.9 254.8h0M387.0 254.5h0M388.2 254.1h0M389.3 254.8h0M390.4 254.8h0M391.6 261.0h0M392.7 254.6h0M393.8 254.9h0M394.9 254.9h0M396.1 254.5h0M397.2 254.5h0M398.3 254.6h0M399.5 262.0h0M400.6 254.2h0M401.7 254.2h0M402.8 266.0h0M404.0 254.4h0M405.1 254.6h0M406.2 264.0h0M407.4 254.5h0M408.5 254.1h0M409.6 254.0h0M410.7 255.0h0M411.9 254.4h0M413.0 254.1h0M414.1 254.6h0M415.3 254.8h0M416.4 254.2h0M417.5 254.6h0M418.7 254.3h0M419.8 254.5h0M420.9 254.0h0M422.0 254.0h0M423.2 255.0h0M424.3 254.9h0M425.4 254.5h0M426.6 254.6h0M427.7 254.3h0M428.8 254.8h0M429.9 254.4h0M431.1 254.9h0M432.2 254.8h0M433.3 258.0h0M434.5 255.0h0M435.6 254.3h0M436.7 254.0h0M437.9 254.2h0M439.0 254.2h0M440.1 259.0h0M441.2 254.1h0M442.4 254.6h0M443.5 254.9h0M444.6 254.5h0M445.8 254.9h0M446.9 254.9h0M448.0 254.1h0M449.1 259.0h0M450.3 254.4h0M451.4 254.1h0M452.5 255.0h0M453.7 254.3h0M454.8 254.6h0M455.9 254.6h0M457.0 264.5h0M458.2 254.7h0M459.3 254.4h0M460.4 254.4h0M461.6 254.2h0M462.7 255.0h0M463.8 255.0h0M465.0 254.2h0M466.1 254.0h0M467.2 254.3h0M468.3 254.4h0M469.5 258.0h0M470.6 254.9h0M471.7 254.8h0M472.9 254.0h0M474.0 254.8h0M475.1 254.7h0M476.2 254.6h0M477.4 255.0h0M478.5 254.1h0M479.6 254.1h0M480.8 254.8h0M481.9 254.9h0M483.0 254.7h0M484.2 254.3h0M485.3 254.6h0M486.4 254.8h0M487.5 254.1h0M488.7 254.3h0M489.8 254.3h0M490.9 254.1h0M492.1 254.5h0M493.2 254.2h0M494.3 254.2h0M495.4 254.1h0M496.6 254.7h0M497.7 254.0h0M498.8 254.7h0M500.0 254.2h0M501.1 254.0h0M502.2 254.9h0M503.4 254.2h0M504.5 262.0h0M505.6 254.9h0M506.7 254.9h0M507.9 254.1h0M509.0 254.4h0M510.1 254.1h0M511.3 254.9h0M512.4 254.8h0M513.5 254.6h0M514.6 254.5h0M515.8 254.3h0M516.9 254.8h0M518.0 265.5h0M519.2 254.6h0M520.3 254.1h0M521.4 254.2h0M522.5 254.1h0M523.7 254.7h0M524.8 254.6h0M525.9 254.1h0M527.1 254.9h0M528.2 263.0h0M529.3 254.4h0M530.5 254.2h0M531.6 254.3h0M532.7 254.8h0M533.8 254.3h0M535.0 254.2h0M536.1 254.5h0M537.2 254.3h0M538.4 254.9h0M539.5 254.1h0M540.6 266.0h0M541.7 265.1h0M542.9 265.9h0M544.0 265.7h0M545.1 265.2h0M546.3 265.5h0M547.4 265.3h0M548.5 265.3h0M549.7 265.2h0M550.8 265.4h0M551.9 266.0h0M553.0 266.0h0M554.2 265.9h0M555.3 265.1h0M556.4 265.3h0M557.6 265.9h0M558.7 265.1h0M559.8 265.7h0M560.9 265.3h0M562.1 266.0h0M563.2 265.0h0M564.3 265.8h0M565.5 265.3h0M566.6 265.1h0M567.7 265.0h0M568.9 265.8h0M570.0 265.5h0M571.1 265.2h0M572.2 265.4h0M573.4 265.9h0M574.5 265.2h0M575.6 265.6h0M576.8 265.1h0M577.9 265.2h0M579.0 260.3h0M580.3 301.3h0M581.3 243.7h0M582.4 243.6h0M583.5 243.6h0M584.7 244.1h0M585.8 244.0h0M586.9 243.8h0M588.0 254.2h0M589.2 254.6h0M590.3 254.7h0M591.4 254.8h0M592.6 254.6h0M593.7 254.2h0M594.8 254.1h0M596.0 254.7h0M597.1 264.5h0M598.2 254.7h0M599.3 254.1h0M600.5 254.8h0M601.6 254.3h0M602.7 254.8h0M603.9 259.0h0M605.0 266.0h0M606.1 254.0h0M607.2 254.9h0M608.4 254.5h0M609.5 254.9h0M610.6 254.3h0M611.8 254.2h0M612.9 254.8h0M614.0 254.4h0M615.2 254.2h0M616.3 254.4h0M617.4 254.6h0M618.6 455.4h0M619.7 254.5h0M620.8 254.4h0M621.9 254.5h0M623.1 254.1h0M624.2 254.7h0M625.3 254.8h0M626.4 254.9h0M627.6 254.3h0M628.7 264.7h0M629.8 264.4h0M631.0 264.8h0M632.1 264.1h0M633.2 269.4h0M634.3 269.5h0M635.5 269.0h0M636.6 254.5h0M637.7 254.5h0M638.9 254.5h0M640.0 254.0h0M641.1 255.0h0M642.3 254.2h0M643.4 254.2h0M644.5 254.1h0M645.6 254.3h0M646.8 254.8h0M647.9 254.0h0M649.0 254.1h0M650.2 254.7h0M651.3 254.2h0M652.4 254.0h0M653.5 334.4h0M654.7 254.6h0M655.8 254.5h0M656.9 254.7h0M658.1 254.1h0M659.2 254.9h0M660.3 254.7h0M661.5 254.0h0M662.6 254.1h0M663.7 254.5h0M664.8 254.5h0M666.0 254.3h0M667.1 254.1h0M668.2 254.4h0M669.4 254.1h0M670.5 254.6h0M671.6 254.9h0M672.7 254.1h0M673.9 254.6h0M675.0 254.7h0M676.1 254.2h0M677.3 254.8h0M678.4 264.5h0M679.5 254.4h0M680.7 254.4h0M681.8 254.8h0M682.9 254.5h0M684.0 254.4h0M685.2 261.0h0M686.3 254.8h0M687.4 254.3h0M688.6 254.2h0M689.7 254.3h0M690.8 254.4h0M691.9 255.0h0M693.1 254.8h0M694.2 254.9h0M695.3 254.8h0M696.5 254.8h0M697.6 254.1h0M698.7 254.5h0M699.8 255.0h0M701.0 268.0h0M702.1 254.2h0M703.2 254.4h0M704.4 254.6h0M705.5 254.4h0M706.6 254.5h0M707.8 254.1h0M708.9 254.4h0M710.0 254.5h0M711.1 254.0h0M712.3 254.1h0M713.4 255.0h0M714.5 254.8h0M715.7 254.9h0M716.8 254.6h0M717.9 261.0h0M719.0 254.9h0M720.2 254.9h0M721.3 254.0h0M722.4 254.6h0M723.6 254.3h0M724.7 254.7h0M725.8 254.3h0M727.0 254.5h0M728.1 254.9h0M729.2 254.6h0M730.3 254.3h0M731.5 254.5h0M732.6 254.4h0M733.7 255.0h0M734.9 254.3h0M736.0 254.3h0M737.1 254.6h0M738.2 265.1h0M739.4 265.6h0M740.5 266.0h0M741.6 265.5h0M742.8 265.3h0M743.9 265.5h0M745.0 265.5h0M746.2 265.1h0M747.3 265.1h0M748.4 265.1h0M749.5 265.3h0M750.7 265.4h0M751.8 265.3h0M752.9 265.2h0M754.1 265.1h0M755.2 254.0h0M756.3 254.3h0M757.4 244.3h0M758.6 244.3h0M759.7 244.4h0M760.8 243.9h0M762.0 244.4h0M763.1 244.2h0M764.2 244.2h0M765.3 253.0h0M766.5 244.2h0M767.6 244.0h0M768.7 243.9h0M769.9 243.9h0M771.0 244.2h0M772.1 253.0h0M773.3 244.3h0M774.4 243.7h0M775.5 244.1h0M776.6 244.6h0M777.8 243.9h0M778.9 244.3h0M780.0 244.2h0M781.2 244.0h0M782.3 244.7h0M783.4 244.0h0M784.5 244.5h0M785.7 243.9h0M786.8 243.8h0M787.9 244.6h0M789.1 244.1h0M790.2 243.8h0M791.3 244.1h0M792.5 244.1h0M793.6 244.4h0M794.7 243.8h0M795.8 243.9h0M797.0 244.7h0M798.1 244.4h0M799.2 243.9h0M800.4 249.8h0M801.5 249.9h0M802.6 250.2h0M803.7 250.1h0M804.9 250.3h0M806.0 256.3h0M807.1 256.0h0M808.3 256.2h0M809.4 256.2h0M810.5 256.3h0M811.6 256.0h0M812.8 263.8h0M813.9 263.7h0M815.0 263.9h0M816.2 263.1h0M817.3 263.9h0M818.4 263.0h0M819.6 263.8h0M820.7 263.6h0M821.8 263.5h0M822.9 255.0h0M824.1 254.6h0M825.2 254.4h0M826.3 254.8h0M827.5 254.9h0M828.6 254.6h0M829.7 254.4h0M830.8 254.5h0M832.0 254.5h0M833.1 254.7h0M834.2 254.3h0M835.4 254.4h0M836.5 261.0h0M837.6 254.4h0M838.8 254.3h0M839.9 254.8h0M841.0 254.8h0M842.1 254.5h0M843.3 254.4h0M844.4 254.2h0M845.5 254.3h0M846.7 254.1h0M847.8 254.6h0M849.4 474.3h0M850.0 254.1h0M851.2 254.9h0M852.3 254.3h0M853.4 254.8h0M854.6 254.8h0M855.7 255.0h0M856.8 254.2h0M858.0 254.4h0M859.1 254.9h0M860.2 254.0h0M861.3 254.0h0M862.5 254.6h0M863.6 254.5h0M864.7 254.9h0M865.9 254.8h0M867.0 254.5h0M868.1 255.0h0M869.2 254.5h0M870.4 254.5h0M871.5 264.5h0M872.3 280.5h0M873.8 254.4h0M874.9 254.6h0M876.0 244.1h0M877.1 244.6h0M878.3 244.4h0M879.4 244.2h0M880.5 243.8h0M881.7 244.1h0M882.8 244.1h0M883.9 244.3h0M885.1 244.3h0M886.2 244.6h0M887.3 244.7h0M888.4 244.2h0M889.6 244.1h0M890.7 244.3h0M891.8 244.7h0M893.0 244.0h0M894.1 244.2h0M895.2 244.5h0M896.3 243.9h0M897.5 244.0h0M898.6 244.7h0M899.7 244.5h0M900.9 244.2h0M902.0 243.8h0M903.1 244.6h0M904.3 244.4h0M905.4 244.5h0M906.5 244.7h0M907.6 244.6h0M908.8 244.1h0M909.9 243.9h0M911.0 244.0h0M912.2 244.2h0M913.3 244.2h0M914.4 243.9h0M915.5 243.9h0M916.7 244.3h0M917.8 244.3h0M918.9 244.1h0M920.1 244.7h0M921.2 244.3h0M922.3 243.7h0M923.5 244.1h0M924.6 244.5h0M925.7 244.0h0M926.8 244.4h0M928.0 243.7h0M929.1 244.0h0M930.2 244.5h0M931.4 244.3h0M932.5 244.4h0M933.6 243.9h0M934.7 244.2h0M935.9 244.3h0M937.0 244.0h0M938.1 248.0h0M939.3 244.2h0M940.4 244.7h0M941.5 244.3h0M942.6 244.1h0M943.8 243.8h0M944.9 253.7h0M946.0 254.3h0M947.2 256.6h0M948.3 256.6h0M949.4 256.7h0M950.6 261.0h0M951.7 261.3h0M952.8 261.1h0M953.9 247.3h0M955.1 246.6h0M956.2 246.5h0M957.3 244.5h0M958.5 244.0h0M959.6 244.4h0M960.7 244.1h0M961.8 243.9h0M963.0 244.0h0M964.1 243.8h0M965.2 244.6h0M966.4 244.3h0M967.5 244.0h0M968.6 244.1h0M969.8 244.1h0M970.9 243.8h0M972.0 244.6h0M973.1 244.3h0M974.3 244.7h0M975.4 244.1h0M976.5 271.4h0M977.7 243.9h0" fill="none" stroke="#000099" stroke-width="6.4" stroke-linecap="round"/>
<line x1="985.4" x2="985.4" y1="125.2" y2="510" stroke="#000" stroke-width="2.78" stroke-dasharray="10.28 4.44"/></g>
<text transform="translate(996,141.5) rotate(90) scale(0.74,0.93)" font-size="25">Now</text>
<g stroke="#000" stroke-width="2.22" fill="none" stroke-linecap="square"><rect x="154.1" y="112.0" width="865.9" height="391.0"/><line x1="154.1" x2="1020.0" y1="125.0" y2="125.0"/></g>
<g stroke="#000" stroke-width="2.22"><line x1="144.38" x2="154.1" y1="446.90" y2="446.90"/><line x1="144.38" x2="154.1" y1="388.92" y2="388.92"/><line x1="144.38" x2="154.1" y1="330.94" y2="330.94"/><line x1="144.38" x2="154.1" y1="272.96" y2="272.96"/><line x1="144.38" x2="154.1" y1="214.98" y2="214.98"/><line x1="144.38" x2="154.1" y1="157.00" y2="157.00"/></g>
<g class="t9" text-anchor="end" letter-spacing="-0.22"><text x="134.6" y="455.8">10000</text><text x="134.6" y="397.8">15000</text><text x="134.6" y="339.8">20000</text><text x="134.6" y="281.9">25000</text><text x="134.6" y="223.9">30000</text><text x="134.6" y="165.9">35000</text></g>
<g stroke="#000"><line x1="179.24" x2="179.24" y1="503.0" y2="508.56" stroke-width="1.67"/><line x1="211.99" x2="211.99" y1="503.0" y2="508.56" stroke-width="1.67"/><line x1="247.00" x2="247.00" y1="503.0" y2="512.72" stroke-width="2.22"/><line x1="280.88" x2="280.88" y1="503.0" y2="508.56" stroke-width="1.67"/><line x1="315.89" x2="315.89" y1="503.0" y2="508.56" stroke-width="1.67"/><line x1="349.77" x2="349.77" y1="503.0" y2="508.56" stroke-width="1.67"/><line x1="384.77" x2="384.77" y1="503.0" y2="508.56" stroke-width="1.67"/><line x1="419.78" x2="419.78" y1="503.0" y2="508.56" stroke-width="1.67"/><line x1="453.66" x2="453.66" y1="503.0" y2="512.72" stroke-width="2.22"/><line x1="488.67" x2="488.67" y1="503.0" y2="508.56" stroke-width="1.67"/><line x1="522.55" x2="522.55" y1="503.0" y2="508.56" stroke-width="1.67"/><line x1="557.56" x2="557.56" y1="503.0" y2="508.56" stroke-width="1.67"/><line x1="592.57" x2="592.57" y1="503.0" y2="508.56" stroke-width="1.67"/><line x1="624.19" x2="624.19" y1="503.0" y2="508.56" stroke-width="1.67"/><line x1="659.19" x2="659.19" y1="503.0" y2="512.72" stroke-width="2.22"/><line x1="693.07" x2="693.07" y1="503.0" y2="508.56" stroke-width="1.67"/><line x1="728.08" x2="728.08" y1="503.0" y2="508.56" stroke-width="1.67"/><line x1="761.96" x2="761.96" y1="503.0" y2="508.56" stroke-width="1.67"/><line x1="796.97" x2="796.97" y1="503.0" y2="508.56" stroke-width="1.67"/><line x1="831.98" x2="831.98" y1="503.0" y2="508.56" stroke-width="1.67"/><line x1="865.86" x2="865.86" y1="503.0" y2="512.72" stroke-width="2.22"/><line x1="900.86" x2="900.86" y1="503.0" y2="508.56" stroke-width="1.67"/><line x1="934.74" x2="934.74" y1="503.0" y2="508.56" stroke-width="1.67"/><line x1="969.75" x2="969.75" y1="503.0" y2="508.56" stroke-width="1.67"/><line x1="1004.76" x2="1004.76" y1="503.0" y2="508.56" stroke-width="1.67"/></g>
<g class="t9" text-anchor="middle" letter-spacing="-0.2"><text x="246.0" y="541.8">04/2024</text><text x="452.7" y="541.8">10/2024</text><text x="659.0" y="541.8">04/2025</text><text x="866.4" y="541.8">10/2025</text></g>
<text class="t9" x="586.8" y="577.3" text-anchor="middle" letter-spacing="-0.13">Month/Year</text>
<text class="t9" transform="translate(39,314.2) rotate(-90)" text-anchor="middle">Max. nr. of Obs.</text>
<rect x="67.7" y="598.5" width="949.8" height="79.9" rx="5" ry="5" fill="#fff" stroke="#d6d6d6" stroke-width="2.78"/>
<circle cx="90.45" cy="618.35" r="4.45" fill="#fdb80b"/><text class="t9" x="104.7" y="625.6">BDS</text>
<circle cx="237.45" cy="618.35" r="4.45" fill="#b30000"/><text class="t9" x="251.8" y="625.6">GLO</text>
<circle cx="383.5" cy="618.35" r="4.45" fill="#000099"/><text class="t9" x="397.5" y="625.6">GPS</text>
<circle cx="527.4" cy="618.35" r="4.45" fill="#807dba"/><text class="t9" x="541.9" y="625.6">RINEX2</text>
<circle cx="713.4" cy="618.35" r="4.45" fill="#660066"/><text class="t9" x="728.9" y="625.6">RINEX3</text>
<circle cx="900.4" cy="618.35" r="4.45" fill="#1a001a"/><text class="t9" x="914.7" y="625.6">RINEX4</text>
<circle cx="90.45" cy="654.35" r="4.45" fill="#339933"/><text class="t9" x="104.7" y="662.7">GAL</text>
<text class="it" x="67" y="709.8">Sat Jan 10 12:15:41 2026</text>
<text class="it" x="1001.5" y="709.8" text-anchor="end">©GNSS@ROB</text>
</svg></body></html>
